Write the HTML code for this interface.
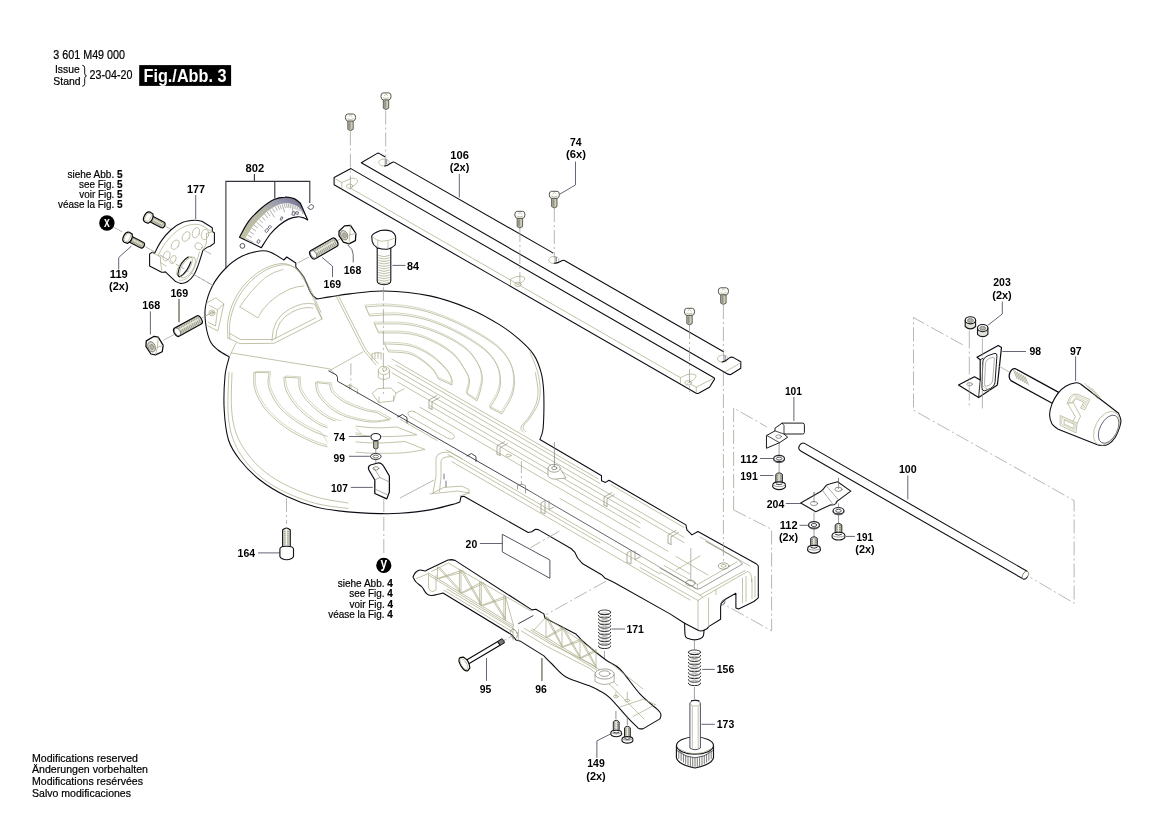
<!DOCTYPE html>
<html><head><meta charset="utf-8"><title>Fig./Abb. 3</title>
<style>
html,body{margin:0;padding:0;background:#fff;}
body{width:1169px;height:826px;overflow:hidden;font-family:"Liberation Sans",sans-serif;}
svg{display:block;position:absolute;left:0;top:0;}
svg *{vector-effect:non-scaling-stroke;}
text{font-family:"Liberation Sans",sans-serif;fill:#000;stroke:none;}
.b{font-weight:bold;font-size:11.4px;text-anchor:middle;}
.r{font-size:10.6px;}
.k{fill:none;stroke:#0c0c14;stroke-width:1.08;stroke-linejoin:round;stroke-linecap:round;}
.kf{fill:#fff;stroke:#0c0c14;stroke-width:1.08;stroke-linejoin:round;stroke-linecap:round;}
.k1{fill:none;stroke:#1a1a1a;stroke-width:1;stroke-linejoin:round;stroke-linecap:round;}
.k1f{fill:#fff;stroke:#1a1a1a;stroke-width:1;stroke-linejoin:round;stroke-linecap:round;}
.t{fill:none;stroke:#a6a682;stroke-width:0.68;stroke-linejoin:round;stroke-linecap:round;}
.tf{fill:#fff;stroke:#a6a682;stroke-width:0.68;stroke-linejoin:round;}
.g{fill:none;stroke:#77778a;stroke-width:0.8;}
.c{fill:none;stroke:#9a9a8c;stroke-width:0.7;stroke-dasharray:14 3 2 3;}
.l{fill:none;stroke:#55556a;stroke-width:0.9;}
.ld{fill:none;stroke:#33333f;stroke-width:1.1;}
</style></head><body>
<svg width="1169" height="826" viewBox="0 0 1169 826">
<rect x="0" y="0" width="1169" height="826" fill="#fff"/>
<!-- p_table -->
<g transform="translate(0 0) scale(1.000000)">
<path class="kf" d="M229.3 356.9 C227.4 355.8 221.1 352.5 218.0 350.0 C214.9 347.5 212.6 346.0 210.6 342.0 C208.6 338.0 206.9 331.8 206.0 326.0 C205.1 320.2 204.3 313.7 205.4 307.0 C206.5 300.3 209.0 292.4 212.4 285.9 C215.8 279.4 221.0 272.9 225.9 268.0 C230.8 263.1 236.2 259.1 241.9 256.3 C247.6 253.5 255.1 251.7 259.9 251.0 C264.7 250.3 266.5 250.7 270.5 252.2 C274.5 253.7 281.6 258.7 283.8 260.0 L283.8 260.0 L286.8 257.0 L295.8 263.0 L295.8 267.0 L295.8 267.0 C297.1 268.7 301.3 272.7 303.8 277.0 C306.3 281.3 308.6 289.4 310.8 293.0 C313.0 296.6 315.8 297.9 316.8 298.9 L316.8 298.9 C319.0 298.6 324.3 297.7 329.8 296.9 C335.3 296.1 340.8 294.9 349.8 293.9 C358.8 292.9 370.5 290.7 383.9 291.0 C397.2 291.3 415.6 292.9 429.9 295.9 C444.2 298.9 458.2 304.1 469.9 308.9 C481.5 313.7 491.5 319.7 499.8 324.9 C508.1 330.1 514.1 334.9 519.8 339.9 C525.5 344.9 530.2 349.4 533.8 354.9 C537.4 360.4 539.6 367.0 541.2 372.9 C542.8 378.8 543.2 383.8 543.6 390.0 C544.0 396.2 544.0 403.3 543.9 410.0 C543.8 416.7 543.6 425.1 542.9 430.0 C542.2 434.9 540.4 437.9 539.9 439.5 L539.9 439.5 L597.0 473.0 L601.5 475.8 L601.5 480.8 L605.5 482.4 L609.0 480.2 L685.9 524.9 L686.9 529.9 L691.9 534.9 L697.9 531.5 L756.6 564.0 L758.3 566.0 L758.3 597.9 L753.9 601.5 L738.6 609.0 L735.9 607.9 L735.9 593.3 L725.3 599.3 L721.3 603.3 L720.6 606.6 L720.6 619.2 L708.6 626.6 L707.3 628.6 L704.0 630.3 L704.0 630.3 C703.9 631.2 704.0 634.5 703.3 635.9 C702.6 637.3 701.5 638.1 700.0 638.8 C698.5 639.5 696.5 639.9 694.6 639.9 C692.7 639.9 690.0 639.3 688.5 638.6 C687.0 637.9 685.9 638.5 685.3 635.9 C684.6 633.3 684.7 625.3 684.6 623.2 L684.6 623.2 L670.0 613.9 L614.6 582.7 L611.7 581.2 L605.2 578.3 L601.6 574.7 L582.7 563.8 L577.6 558.0 L574.7 552.1 L571.0 548.5 L538.3 529.6 L535.4 529.2 L531.8 531.8 L528.2 532.5 L463.9 496.3 L460.9 496.9 L459.9 501.9 L455.9 503.5 L455.9 503.5 C451.6 504.6 439.3 508.3 430.0 509.9 C420.7 511.5 408.4 512.7 400.0 513.3 C391.6 513.9 388.5 513.8 379.8 513.6 C371.1 513.4 358.5 513.0 347.9 511.9 C337.2 510.8 326.2 509.6 315.9 506.9 C305.6 504.2 295.2 500.4 285.9 495.9 C276.6 491.4 267.6 486.0 260.0 480.0 C252.3 474.0 245.2 466.7 240.0 460.0 C234.8 453.3 231.1 448.3 228.5 440.0 C225.9 431.7 224.8 420.7 224.2 410.0 C223.6 399.3 224.2 384.9 225.0 376.0 C225.8 367.1 228.6 360.1 229.3 356.9 Z"/>
<path class="t" d="M227.9 338.0 C227.9 335.1 226.9 327.1 227.9 320.9 C228.9 314.7 230.9 307.2 233.9 300.9 C236.9 294.6 241.2 288.1 245.9 283.0 C250.6 277.9 256.6 273.2 261.9 270.0 C267.2 266.8 273.2 264.8 277.9 264.0 C282.5 263.2 286.1 263.5 289.8 265.0 C293.5 266.5 296.5 268.7 299.8 273.0 C303.1 277.3 306.6 284.7 309.8 291.0 C313.0 297.3 316.8 306.2 318.8 310.9 C320.8 315.5 321.3 317.6 321.8 318.9"/>
<path class="t" d="M229.9 339.2 C229.9 336.3 228.9 328.3 229.9 322.1 C230.9 315.9 232.9 308.4 235.9 302.1 C238.9 295.8 243.2 289.3 247.9 284.2 C252.6 279.1 258.6 274.4 263.9 271.2 C269.2 268.0 275.2 266.0 279.9 265.2 C284.5 264.4 288.1 264.7 291.8 266.2 C295.5 267.7 298.5 269.9 301.8 274.2 C305.1 278.5 308.6 285.9 311.8 292.2 C315.0 298.5 319.3 308.8 320.8 312.1"/>
<path class="t" d="M227.9 338 L239.9 343.6 L274 343.3 L322 319"/>
<path class="t" d="M230 333.5 L240.5 339.5 L273 339.5 L315.5 318"/>
<path class="t" d="M239.9 306.9 L257.9 317.9 Q266 300 289.8 289 Q297 286.3 303.8 285.9 M239.9 306.9 Q249.9 291 265.9 277 Q274 271.5 283 269.5"/>
<path class="t" d="M271.9 340.9 Q272 318 289.8 308.9 Q303 301.5 314.5 304 L321.8 318.9"/>
<path class="t" d="M275.5 338.5 Q276.5 320 291.5 312.3 Q303 306 313 308"/>
<path class="t" d="M206.9 302.9 L215.9 297.9 L223.9 303.9 L217.9 330.9 L207.9 325.9 M209.5 305.5 L217.5 309.8 L215.5 326 L208.5 322.5 M217.5 309.8 L223.9 303.9"/>
<circle cx="211.9" cy="312.9" r="3" class="t"/>
<circle cx="211.9" cy="312.9" r="1.5" class="t"/>
<path class="t" d="M231.5 353 L329.8 368.9 L337 376"/>
<path class="t" d="M229.3 356.9 L236 343"/>
<path class="t" d="M229.0 372.0 C228.8 378.3 227.5 399.3 228.0 410.0 C228.5 420.7 229.5 428.0 232.0 436.0 C234.5 444.0 238.0 451.0 243.0 458.0 C248.0 465.0 254.7 472.2 262.0 478.0 C269.3 483.8 278.0 488.8 287.0 493.0 C296.0 497.2 305.8 500.9 316.0 503.5 C326.2 506.1 342.7 507.7 348.0 508.5"/>
<path class="t" d="M232.0 373.0 C231.9 378.8 230.8 398.0 231.5 408.0 C232.2 418.0 233.4 425.5 236.0 433.0 C238.6 440.5 242.2 446.5 247.0 453.0 C251.8 459.5 257.8 466.3 265.0 472.0 C272.2 477.7 281.2 482.8 290.0 487.0 C298.8 491.2 308.3 494.8 318.0 497.5 C327.7 500.2 343.0 502.1 348.0 503.0"/>
<path class="t" d="M366.0 306.9 C370.0 306.7 381.0 305.4 390.0 305.9 C399.0 306.4 409.9 307.6 419.9 309.9 C429.9 312.2 439.9 315.7 449.9 319.9 C459.9 324.1 471.6 330.1 479.9 334.9 C488.2 339.7 494.6 344.0 499.8 348.9 C505.0 353.8 508.4 358.8 510.8 364.0 C513.2 369.2 514.2 374.7 514.4 380.0 C514.6 385.3 514.0 390.4 511.9 396.0 C509.8 401.6 503.6 410.9 501.9 413.9 L489.9 407.9 C491.2 405.6 496.1 398.3 497.9 394.0 C499.7 389.7 500.5 386.5 500.5 382.0 C500.5 377.5 500.2 372.1 497.8 366.9 C495.4 361.7 492.1 356.4 485.8 350.9 C479.5 345.4 469.2 338.9 459.9 333.9 C450.6 328.9 439.9 324.1 429.9 320.9 C419.9 317.7 409.9 315.7 399.9 314.9 C389.9 314.1 375.0 315.7 370.0 315.9 Z"/>
<path class="t" style="stroke:#c2c2a6" d="M365.2 305.1 C369.2 304.9 380.2 303.6 389.2 304.1 C398.2 304.6 409.1 305.8 419.1 308.1 C429.1 310.4 439.1 313.9 449.1 318.1 C459.1 322.3 470.8 328.3 479.1 333.1 C487.4 337.9 493.9 342.2 499.0 347.1 C504.1 351.9 507.6 357.0 510.0 362.2 C512.4 367.4 513.4 372.9 513.6 378.2 C513.8 383.5 513.2 388.6 511.1 394.2 C509.0 399.8 502.8 409.1 501.1 412.1 L489.1 406.1 C490.4 403.8 495.3 396.5 497.1 392.2 C498.9 387.9 499.7 384.7 499.7 380.2 C499.7 375.7 499.4 370.3 497.0 365.1 C494.6 359.9 491.3 354.6 485.0 349.1 C478.7 343.6 468.4 337.1 459.1 332.1 C449.8 327.1 439.1 322.3 429.1 319.1 C419.1 315.9 409.1 313.9 399.1 313.1 C389.1 312.3 374.2 313.9 369.2 314.1 Z"/>
<path class="t" d="M375.0 323.9 C380.8 324.1 399.1 323.2 409.9 324.9 C420.7 326.6 430.6 329.9 439.9 333.9 C449.2 337.9 459.5 343.7 465.9 348.9 C472.3 354.1 475.8 360.0 478.5 364.9 C481.2 369.8 482.0 373.8 482.3 378.0 C482.6 382.2 481.4 386.2 480.5 390.0 C479.6 393.8 477.5 399.1 476.9 400.9 L466.9 393.9 C467.3 391.8 469.7 384.8 469.5 381.0 C469.3 377.2 468.1 375.2 465.5 370.9 C462.9 366.5 459.2 359.7 453.9 354.9 C448.6 350.1 441.2 345.4 433.9 341.9 C426.6 338.4 419.0 335.4 409.9 333.9 C400.8 332.4 384.1 333.1 379.0 332.9 Z"/>
<path class="t" style="stroke:#c2c2a6" d="M374.2 322.1 C380.0 322.3 398.3 321.4 409.1 323.1 C419.9 324.8 429.8 328.1 439.1 332.1 C448.4 336.1 458.7 341.9 465.1 347.1 C471.5 352.3 475.0 358.2 477.7 363.1 C480.4 367.9 481.2 372.0 481.5 376.2 C481.8 380.4 480.6 384.4 479.7 388.2 C478.8 392.0 476.7 397.3 476.1 399.1 L466.1 392.1 C466.5 389.9 468.9 383.0 468.7 379.2 C468.5 375.4 467.3 373.4 464.7 369.1 C462.1 364.7 458.4 357.9 453.1 353.1 C447.8 348.3 440.4 343.6 433.1 340.1 C425.8 336.6 418.2 333.6 409.1 332.1 C399.9 330.6 383.3 331.3 378.2 331.1 Z"/>
<path class="t" d="M385.0 343.9 C389.1 344.2 402.4 344.1 409.9 345.9 C417.4 347.7 424.1 351.2 429.9 354.9 C435.7 358.6 441.3 364.0 444.9 367.9 C448.5 371.8 450.3 375.1 451.5 378.0 C452.7 380.9 451.8 383.8 451.9 385.0 L438.5 379.0 C437.7 377.6 436.3 373.8 433.9 370.9 C431.5 368.0 427.9 364.7 423.9 361.9 C419.9 359.1 415.7 355.6 409.9 353.9 C404.1 352.2 392.5 352.2 389.0 351.9 Z"/>
<path class="t" style="stroke:#c2c2a6" d="M384.2 342.1 C388.3 342.4 401.6 342.3 409.1 344.1 C416.6 345.9 423.3 349.4 429.1 353.1 C434.9 356.8 440.5 362.2 444.1 366.1 C447.7 369.9 449.5 373.3 450.7 376.2 C451.9 379.1 451.0 382.0 451.1 383.2 L437.7 377.2 C436.9 375.8 435.5 371.9 433.1 369.1 C430.7 366.2 427.1 362.9 423.1 360.1 C419.1 357.3 414.9 353.8 409.1 352.1 C403.3 350.4 391.7 350.4 388.2 350.1 Z"/>
<path class="t" d="M530.0 352.0 C531.3 355.3 535.9 365.7 537.6 372.0 C539.3 378.3 540.1 384.7 540.2 390.0 C540.3 395.3 539.7 399.3 538.0 404.0 C536.3 408.7 532.3 414.5 530.0 418.0 C527.7 421.5 525.1 423.2 524.0 425.0 C522.9 426.8 523.0 427.4 523.3 428.5 C523.5 429.6 525.1 431.0 525.5 431.5"/>
<path class="t" d="M535.4 372.6 C535.8 375.6 537.9 385.3 538.0 390.6 C538.1 395.9 537.5 399.9 535.8 404.6 C534.1 409.3 530.1 415.1 527.8 418.6 C525.5 422.1 522.9 423.9 521.8 425.6 C520.7 427.4 520.8 428.0 521.1 429.1 C521.3 430.2 522.9 431.6 523.3 432.1"/>
<path class="t" d="M253.9 373.0 C254.1 375.8 252.9 383.8 254.9 389.9 C256.9 396.0 260.7 403.6 265.9 409.9 C271.1 416.2 278.6 422.7 285.9 427.9 C293.2 433.1 302.9 437.7 309.9 440.9 C316.9 444.1 319.5 445.0 327.9 446.9 C336.2 448.8 348.0 451.5 360.0 452.5 C372.0 453.5 389.2 453.5 400.0 453.0 C410.8 452.5 420.8 450.1 425.0 449.5 L405.0 441.5 C400.0 441.8 385.0 443.2 375.0 443.0 C365.0 442.8 354.2 442.0 345.0 440.5 C335.8 439.0 327.4 436.7 319.9 433.9 C312.4 431.1 306.6 428.2 299.9 423.9 C293.2 419.6 285.1 413.9 279.9 407.9 C274.7 401.9 270.7 393.7 268.9 387.9 C267.1 382.1 268.9 375.5 268.9 373.0 Z"/>
<path class="t" style="stroke:#c2c2a6" d="M255.5 371.8 C255.7 374.6 254.5 382.6 256.5 388.7 C258.5 394.8 262.3 402.4 267.5 408.7 C272.7 415.0 280.2 421.5 287.5 426.7 C294.8 431.9 304.5 436.5 311.5 439.7 C318.5 442.9 326.5 444.7 329.5 445.7 L321.5 432.7 C318.2 431.0 308.2 427.0 301.5 422.7 C294.8 418.4 286.7 412.7 281.5 406.7 C276.3 400.7 272.3 392.5 270.5 386.7 C268.7 380.9 270.5 374.3 270.5 371.8 Z"/>
<path class="t" d="M283.9 377.6 C284.2 379.7 283.9 385.2 285.9 389.9 C287.9 394.6 291.6 400.9 295.9 405.9 C300.2 410.9 306.6 416.2 311.9 419.9 C317.2 423.6 319.9 425.4 327.9 427.9 C335.9 430.4 349.5 433.6 359.8 435.0 C370.1 436.4 380.3 436.5 389.8 436.5 C399.3 436.5 412.3 435.2 416.8 434.9 L397.0 427.0 C393.3 427.1 382.8 428.1 375.0 427.8 C367.2 427.5 357.9 426.6 350.0 425.0 C342.1 423.4 334.6 421.4 327.9 417.9 C321.2 414.4 314.6 408.6 309.9 403.9 C305.2 399.2 301.7 394.1 299.9 389.9 C298.1 385.6 299.1 380.3 298.9 378.4 Z"/>
<path class="t" style="stroke:#c2c2a6" d="M285.5 376.4 C285.8 378.5 285.5 384.0 287.5 388.7 C289.5 393.4 293.2 399.7 297.5 404.7 C301.8 409.7 308.2 415.0 313.5 418.7 C318.8 422.4 321.5 424.2 329.5 426.7 C337.5 429.2 356.1 432.6 361.4 433.8 L351.6 423.8 C347.9 422.6 336.2 420.2 329.5 416.7 C322.8 413.2 316.2 407.4 311.5 402.7 C306.8 398.0 303.3 392.9 301.5 388.7 C299.7 384.4 300.7 379.1 300.5 377.2 Z"/>
<path class="t" d="M315.5 383.0 C315.9 384.8 315.8 390.1 317.9 393.9 C320.0 397.7 323.6 402.2 327.9 405.9 C332.2 409.6 336.9 413.2 343.9 415.9 C350.9 418.6 362.1 421.2 369.8 421.9 C377.5 422.6 386.5 420.2 389.8 419.9 L377.0 412.5 C374.8 412.1 369.3 411.7 363.8 409.9 C358.3 408.1 349.2 404.9 343.9 401.9 C338.6 398.9 334.2 394.8 331.9 391.9 C329.6 389.0 330.2 385.6 329.9 384.4 Z"/>
<path class="t" style="stroke:#c2c2a6" d="M317.1 381.8 C317.5 383.6 317.4 388.9 319.5 392.7 C321.6 396.5 325.2 401.0 329.5 404.7 C333.8 408.4 338.5 412.0 345.5 414.7 C352.5 417.4 363.8 420.0 371.4 420.7 C379.1 421.4 388.1 419.0 391.4 418.7 L378.6 411.3 C376.4 410.9 370.9 410.5 365.4 408.7 C359.9 406.9 350.8 403.7 345.5 400.7 C340.2 397.7 335.8 393.6 333.5 390.7 C331.2 387.8 331.8 384.4 331.5 383.2 Z"/>
<rect x="327.5" y="421" width="28" height="56" fill="#fff"/>
<rect x="327.5" y="480" width="27.5" height="15" fill="#fff"/>
<path class="t" d="M336 295.9 L364 350.9 L376 365 M338.2 295.4 L366 349.8 L378 363.5"/>
<path class="t" d="M363 351.9 L328.9 371"/>
<path class="t" d="M372 354 V360 M375 352.8 V359 M378 352.4 V358.5 M381 353 V359 M372 354 Q376 351.5 381 353"/>
<ellipse cx="383.9" cy="370.5" rx="5.6" ry="4.2" class="t"/>
<ellipse cx="384.6" cy="369.3" rx="2.2" ry="1.7" class="t"/>
<path class="t" d="M378.3 371 V377.5 Q384 381.5 389.5 377.5 V371"/>
<path class="t" d="M372.5 393 L378 388.5 L391 388 L396 393 L393.5 401 L379 402.5 Z M379 402.5 V397 M393.5 401 V396"/>
<path class="t" d="M346 386.5 L349.5 384.8 L357.5 389 V393.5 M349.5 384.8 V389"/>
<path class="t" d="M396 393 L404 389"/>
<path class="c" d="M350.9 363.4 V388" style="stroke-dasharray:12 3 2 3"/>
<path class="k1" d="M328.9 371 L333 373.2 Q337.5 374.5 337.5 377.5 V381.2 L527.9 490" style="stroke-width:.85;stroke:#24242e"/>
<path class="k1" d="M527.9 490 L640 555.5" style="stroke:#3c3c44;stroke-width:.8"/>
<path class="t" d="M640 555.5 L696 588.6" style="stroke:#8a8a78"/>
<path class="k1" d="M397.5 417 L402.5 414.5 L407 417.5 V423" style="stroke-width:.8"/>
<path class="k1" d="M467 456 L471.5 453.5 L476 456.5 V461.5" style="stroke-width:.8"/>
<path class="t" d="M400.5 419.5 L437 440.5"/>
</g>
<!-- p_arm -->
<g transform="translate(0 0) scale(1.000000)">
<path class="t" d="M611 484.8 L684 527.5"/>
<path class="t" d="M700 536.9 L750 566.2"/>
<path class="t" d="M392.0 359.1 L598.0 478.8"/>
<path class="t" d="M396.0 365.0 L600.0 483.5"/>
<path class="t" d="M388.0 365.4 L684.0 537.4"/>
<path class="t" d="M392.0 372.9 L684.0 542.5"/>
<path class="t" d="M398.0 382.2 L640.0 522.8"/>
<path class="t" d="M430.0 405.8 L640.0 527.9"/>
<path class="t" d="M420.0 407.2 L668.0 551.3"/>
<path class="t" d="M560.0 498.5 L690.0 574.0"/>
<path class="t" d="M446.0 449.7 L660.0 574.1"/>
<path class="t" d="M448.0 454.6 L600.0 542.9"/>
<path class="t" d="M452.0 461.7 L690.0 600.0"/>
<path class="t" d="M414.5 411.8 L452.5 433.6 Q456 436.6 453.6 438.6 Q451 440 447.5 438.2 L409.5 416.4 Q406.6 413.8 408.6 411.8 Q411 410 414.5 411.8Z"/>
<path class="t" d="M429 408 V400 L437 395.5 M432 409.5 V401.8 L439.5 397.5 M429 408 L432 409.5" style="stroke:#8c8c74"/>
<path class="t" d="M497 454 V446 L505 441.5 M500 455.5 V447.8 L507.5 443.5 M497 454 L500 455.5" style="stroke:#8c8c74"/>
<path class="t" d="M604 505 V497 L612 492.5 M607 506.5 V498.8 L614.5 494.5 M604 505 L607 506.5" style="stroke:#8c8c74"/>
<path class="t" d="M668 543 V535 L676 530.5 M671 544.5 V536.8 L678.5 532.5 M668 543 L671 544.5" style="stroke:#8c8c74"/>
<path class="t" d="M541 512 V503 L545 500.5 V509 M549 501 V509.5 L554 507 M541 512 L545 514 V509" style="stroke:#8c8c74"/>
<path class="t" d="M627 562 V553 L631 550.5 V559 M635 551 V559.5 L640 557 M627 562 L631 564 V559" style="stroke:#8c8c74"/>
<path class="tf" d="M548 468.5 V475.5 Q549.5 479.5 556 479 L566 478 L560 468.5Z" style="stroke:#8c8c74"/>
<ellipse cx="554.1" cy="468.3" rx="6.1" ry="3.9" class="tf" style="stroke:#77776a"/>
<ellipse cx="554.3" cy="468.1" rx="2.6" ry="1.6" class="t" style="stroke:#66665a"/>
<path class="c" d="M554.4 442 V467" style="stroke-dasharray:none;stroke:#77777f"/>
<path class="c" d="M521.4 461 V485" style="stroke-dasharray:12 3 2 3"/>
<path class="t" d="M517.5 489 V485.5 Q521.4 482.5 525.5 485.5 V493" style="stroke:#77776a"/>
<ellipse cx="508.5" cy="455.5" rx="2.6" ry="1.3" class="t"/>
<path class="t" d="M660 568 L696 588.6 Q698 589.4 700 588.6 L742.6 564 L738 559.5 L706 541.5" style="stroke:#6e6e66"/>
<path class="t" d="M664 565.5 L697.5 584.5 L737 562 M697.5 584.5 L697.5 588.8"/>
<ellipse cx="723.6" cy="566" rx="5.4" ry="3.2" class="t" style="stroke:#77776a"/><ellipse cx="723.6" cy="565.8" rx="2.5" ry="1.4" class="t"/>
<ellipse cx="690.5" cy="583" rx="4.6" ry="2.8" class="t" style="stroke:#77776a"/>
<path class="c" d="M690.8 548 V581" style="stroke-dasharray:none"/>
<path class="t" d="M676 556.5 L708 575 M676 570 L700 556"/>
<path class="t" d="M700 595 L745 570.5 M698 600.5 Q702 597 712 592 L716 589.5 V594.5 M716 589.5 L747.5 571.5 Q751 572 751.5 577.5 V582 M698 600.5 V629.5 M708.6 598 V626.6 M703 597.5 L700 595 L660 572"/>
<path class="t" d="M752 579 V598.5 M755 576.5 V597 M742.5 578 V603 M746 576.5 V601.5"/>
<path class="t" d="M640 567.5 L698 600.5"/>
<ellipse cx="723" cy="602.5" rx="1.6" ry="3" transform="rotate(30 723 602.5)" class="t" style="stroke:#44444c"/>
<path class="k" d="M684.6 623.2 L698.6 630.6 Q701 631.5 704 630.3"/>
<path class="t" d="M433 492.9 L436 476 V458 Q437 453.5 442 452.6 L450 452 L462 458.8 M439.5 491.5 L441 477 V461 Q442 457.5 446 457 L452 456.6"/>
<path class="t" d="M430 493.9 L458 491 L469 493 M433 492.9 L444 487.3 L462 486.2 L469 489.5 V493 M460 496 L469 493"/>
<path class="k1" d="M444 474 V479 M446 481 V487" style="stroke-width:.8;stroke:#55555f"/>
<path class="c" d="M400 498 L434 480" style="stroke-dasharray:none"/>
<path class="c" d="M383.8 499 V512" style="stroke-dasharray:none"/>
</g>
<!-- p_bars -->
<g transform="translate(0 0) scale(1.000000)">
<path class="c" d="M723.4 372 V432"/>
<path d="M361.3 162.7 L377.2 153.4 L379.5 153.6 L394 162.1 L723.6 351.8 L732.7 357.3 L740.8 361.8 L740.8 368.2 L730.8 374.5 L725.4 372.7 Z" fill="#fff" stroke="none"/>
<ellipse cx="384" cy="162.5" rx="5.2" ry="3.5" class="tf"/>
<path d="M385.2 159.2 V165.0 M386.6 159.6 V164.3" class="g"/>
<ellipse cx="553.9" cy="259.9" rx="5.2" ry="3.5" class="tf"/>
<path d="M555.1 256.59999999999997 V262.4 M556.5 257.0 V261.7" class="g"/>
<ellipse cx="722.7" cy="358.6" rx="5.2" ry="3.5" class="tf"/>
<path d="M723.9000000000001 355.3 V361.1 M725.3000000000001 355.70000000000005 V360.40000000000003" class="g"/>
<path class="k" d="M384.9 156.8 L379.5 153.6 Q378.3 152.8 377.2 153.4 L361.3 162.7 L725.4 372.7 Q728.5 375 730.8 374.5 L740.8 368.2 L740.8 361.8 L733.5 357.6 Q731.5 356.7 729.8 357.6 L727.4 359.4 Q725.5 361.5 722 362"/>
<path class="k" d="M384.5 166 Q387.5 165.6 389 164.3 L392.6 162.3 Q393.6 161.8 394.6 162.4 L552.9 252.9"/>
<path class="k" d="M554.2 263.3 Q557.6 263.2 559.3 262 L562.3 260.4 Q563.4 259.9 564.5 260.5 L723.6 351.8"/>
<path class="t" d="M725.6 371.6 L740.6 363"/>
<path class="kf" d="M350.9 168.6 L714 377.7 Q714.9 378.4 714.4 379.4 L709.5 387.2 L698.6 393.2 Q697.2 393.9 695.8 393 L334.1 184.7 L334.1 177.4 Z"/>
<path class="t" d="M351.3 188.6 L680.4 377.7 L680.4 382.6 M680.4 377.7 L687 374.6 M690.9 384.4 L696.3 387.2 L713.4 378.3 M696.3 387.2 V393"/>
<path class="t" d="M335.6 178.9 L341.8 182.5 V188.3 M341.8 182.5 L351.5 178.3 Q356.6 177.6 357.6 180.9 Q357.8 183.6 351.5 186.8"/>
<ellipse cx="349.6" cy="186.2" rx="3.2" ry="2.2" class="t"/>
<path class="t" d="M687 374.6 Q693 373 695.8 375.2 Q696.8 378 691 381.4 L687.5 383"/>
<ellipse cx="688.2" cy="382.8" rx="3.2" ry="2.2" class="t"/>
<path class="t" d="M510.5 279.2 L516.2 276.6 Q522 275.3 524.6 277.4 Q526 280.2 520.5 283 L516.8 284.8"/>
<ellipse cx="518" cy="284.4" rx="3.2" ry="2.2" class="t"/>
<path class="t" d="M510.5 279.2 V284.5"/>
<path class="c" d="M385.7 110.5 V164"/>
<path class="c" d="M350.4 131.5 V192"/>
<path class="c" d="M554.3 208 V258"/>
<path class="c" d="M519.9 228 V283"/>
<path class="c" d="M723.4 305 V356"/>
<path class="c" d="M689.5 325 V392"/>
<path d="M383.3 99.4 L383.3 108.2 Q386 110.9 388.7 108.2 L388.7 99.4 Z" fill="#bdbbaa" stroke="#55554a" stroke-width="0.9"/>
<path d="M385.1 101.10000000000001 V107.7" stroke="#8f8f9a" stroke-width="1.6" fill="none"/>
<path d="M387.3 101.10000000000001 V107.7" stroke="#d8d6a8" stroke-width="1.0" fill="none"/>
<path d="M380.9 96.4 Q380.9 92.9 383.195 92.9 L388.805 92.9 Q391.1 92.9 391.1 96.4 Q390.845 99.9 388.805 99.9 L383.195 99.9 Q381.155 99.9 380.9 96.4 Z" fill="#fff" stroke="#4c4c42" stroke-width="0.95"/>
<path d="M383.195 97.94000000000001 Q386 99.2 388.805 97.94000000000001" class="t"/>
<path d="M384.4 95.56 L386 94.02000000000001 L387.6 95.56" class="t"/>
<path d="M347.8 120.5 L347.8 129.3 Q350.5 132.0 353.2 129.3 L353.2 120.5 Z" fill="#bdbbaa" stroke="#55554a" stroke-width="0.9"/>
<path d="M349.6 122.2 V128.8" stroke="#8f8f9a" stroke-width="1.6" fill="none"/>
<path d="M351.8 122.2 V128.8" stroke="#d8d6a8" stroke-width="1.0" fill="none"/>
<path d="M345.4 117.5 Q345.4 114 347.695 114 L353.305 114 Q355.6 114 355.6 117.5 Q355.345 121.0 353.305 121.0 L347.695 121.0 Q345.655 121.0 345.4 117.5 Z" fill="#fff" stroke="#4c4c42" stroke-width="0.95"/>
<path d="M347.695 119.04 Q350.5 120.3 353.305 119.04" class="t"/>
<path d="M348.9 116.66 L350.5 115.12 L352.1 116.66" class="t"/>
<path d="M551.5999999999999 197.8 L551.5999999999999 206.60000000000002 Q554.3 209.3 557.0 206.60000000000002 L557.0 197.8 Z" fill="#bdbbaa" stroke="#55554a" stroke-width="0.9"/>
<path d="M553.4 199.5 V206.10000000000002" stroke="#8f8f9a" stroke-width="1.6" fill="none"/>
<path d="M555.5999999999999 199.5 V206.10000000000002" stroke="#d8d6a8" stroke-width="1.0" fill="none"/>
<path d="M549.1999999999999 194.8 Q549.1999999999999 191.3 551.495 191.3 L557.1049999999999 191.3 Q559.4 191.3 559.4 194.8 Q559.145 198.3 557.1049999999999 198.3 L551.495 198.3 Q549.4549999999999 198.3 549.1999999999999 194.8 Z" fill="#fff" stroke="#4c4c42" stroke-width="0.95"/>
<path d="M551.495 196.34 Q554.3 197.60000000000002 557.1049999999999 196.34" class="t"/>
<path d="M552.6999999999999 193.96 L554.3 192.42000000000002 L555.9 193.96" class="t"/>
<path d="M517.1999999999999 217.8 L517.1999999999999 226.60000000000002 Q519.9 229.3 522.6 226.60000000000002 L522.6 217.8 Z" fill="#bdbbaa" stroke="#55554a" stroke-width="0.9"/>
<path d="M519.0 219.5 V226.10000000000002" stroke="#8f8f9a" stroke-width="1.6" fill="none"/>
<path d="M521.1999999999999 219.5 V226.10000000000002" stroke="#d8d6a8" stroke-width="1.0" fill="none"/>
<path d="M514.8 214.8 Q514.8 211.3 517.095 211.3 L522.7049999999999 211.3 Q525.0 211.3 525.0 214.8 Q524.745 218.3 522.7049999999999 218.3 L517.095 218.3 Q515.055 218.3 514.8 214.8 Z" fill="#fff" stroke="#4c4c42" stroke-width="0.95"/>
<path d="M517.095 216.34 Q519.9 217.60000000000002 522.7049999999999 216.34" class="t"/>
<path d="M518.3 213.96 L519.9 212.42000000000002 L521.5 213.96" class="t"/>
<path d="M720.6999999999999 294.3 L720.6999999999999 303.1 Q723.4 305.8 726.1 303.1 L726.1 294.3 Z" fill="#bdbbaa" stroke="#55554a" stroke-width="0.9"/>
<path d="M722.5 296.0 V302.6" stroke="#8f8f9a" stroke-width="1.6" fill="none"/>
<path d="M724.6999999999999 296.0 V302.6" stroke="#d8d6a8" stroke-width="1.0" fill="none"/>
<path d="M718.3 291.3 Q718.3 287.8 720.595 287.8 L726.2049999999999 287.8 Q728.5 287.8 728.5 291.3 Q728.245 294.8 726.2049999999999 294.8 L720.595 294.8 Q718.555 294.8 718.3 291.3 Z" fill="#fff" stroke="#4c4c42" stroke-width="0.95"/>
<path d="M720.595 292.84000000000003 Q723.4 294.1 726.2049999999999 292.84000000000003" class="t"/>
<path d="M721.8 290.46000000000004 L723.4 288.92 L725.0 290.46000000000004" class="t"/>
<path d="M686.8 314.8 L686.8 323.6 Q689.5 326.3 692.2 323.6 L692.2 314.8 Z" fill="#bdbbaa" stroke="#55554a" stroke-width="0.9"/>
<path d="M688.6 316.5 V323.1" stroke="#8f8f9a" stroke-width="1.6" fill="none"/>
<path d="M690.8 316.5 V323.1" stroke="#d8d6a8" stroke-width="1.0" fill="none"/>
<path d="M684.4 311.8 Q684.4 308.3 686.695 308.3 L692.305 308.3 Q694.6 308.3 694.6 311.8 Q694.345 315.3 692.305 315.3 L686.695 315.3 Q684.655 315.3 684.4 311.8 Z" fill="#fff" stroke="#4c4c42" stroke-width="0.95"/>
<path d="M686.695 313.34000000000003 Q689.5 314.6 692.305 313.34000000000003" class="t"/>
<path d="M687.9 310.96000000000004 L689.5 309.42 L691.1 310.96000000000004" class="t"/>
<path class="l" d="M459.3 174 V197.5"/>
<path class="l" d="M575.5 161.6 V184.9 L559.8 194.2"/>
</g>
<!-- p_left -->
<g transform="translate(0 0) scale(1.000000)">
<path class="c" d="M113.6 227.2 L122 231.8"/>
<path class="c" d="M145.3 246.7 L160 255 M160 255 L213 285.5"/>
<path class="c" d="M165.3 226.2 L171 229.5 M203 249.8 L211.2 254.2"/>
<path class="c" d="M163.2 340.4 L174 334.5 M202.2 317.7 L213.6 311.8"/>
<path class="c" d="M297.6 263 L309.1 257 M337.4 240.6 L340 239.2"/>
<path class="c" d="M383.4 286.9 V397"/>
<path class="ld" d="M254.4 174 V181.4 M225.9 268.5 V181.4 H309.8 V203 M274.8 181.4 V198.5"/>
<path class="l" d="M195.7 195 V219"/>
<path class="l" d="M118.7 269.5 V257.5 L131.5 246"/>
<path d="M179 299.1 V322.2" fill="none" stroke="#96968a" stroke-width="1.9"/>
<path class="l" d="M150.4 311.3 V334.5"/>
<path class="l" d="M322.2 257.5 L332.5 266.2 V277.1"/>
<path class="l" d="M347.8 245 Q353.2 249 353.2 254.5 V262.4"/>
<path class="l" d="M392.5 265.4 H405.5"/>
<path class="kf" d="M154.5 253.4 C155.6 251.4 158.3 245.3 161.0 241.4 C163.7 237.5 167.2 233.2 170.8 230.0 C174.4 226.8 178.8 223.9 182.8 222.3 C186.8 220.7 191.6 220.4 194.8 220.2 C198.0 220.0 200.7 221.1 201.9 221.3 L201.9 221.3 L212.3 227.8 L212.3 231.6 L214.4 232.7 L214.4 243.1 L210.1 246.3 L207.9 246.9 L203.0 250.1 L203.0 250.1 C202.2 252.6 199.7 261.2 198.1 265.4 C196.5 269.6 195.5 272.5 193.7 275.2 C191.9 277.9 189.4 280.3 187.2 281.7 C185.0 283.1 182.7 283.5 180.7 283.4 C178.7 283.3 176.1 281.6 175.2 281.2 L175.2 281.2 L165.4 271.9 L162.1 272.5 L149.6 265.9 L149.6 253.9 L152.3 252.3 L154.5 253.4 Z"/>
<path class="t" d="M158.5 255.0 C159.6 253.1 162.4 247.1 165.0 243.5 C167.6 239.9 170.7 236.4 174.0 233.5 C177.3 230.6 181.3 227.8 185.0 226.3 C188.7 224.8 193.0 224.4 196.0 224.3 C199.0 224.2 201.8 225.7 203.0 226.0 L210.5 231"/>
<path class="t" d="M199.5 252.0 C198.8 254.3 196.5 262.2 195.0 266.0 C193.5 269.8 192.2 272.2 190.5 274.5 C188.8 276.8 186.6 278.5 184.8 279.5 C183.0 280.5 180.4 280.2 179.5 280.3"/>
<path class="t" d="M152.3 252.3 L160.5 257 V262.5 L162.1 272.5 M160.5 257 L158.5 255 M160.5 262.5 L166 266 M206.5 233.5 V243 L203 250.1 M206.5 233.5 L212.3 231.6"/>
<ellipse cx="175.2" cy="244.7" rx="3.4" ry="5.2" transform="rotate(35 175.2 244.7)" class="t"/>
<ellipse cx="186.1" cy="236.5" rx="3.4" ry="5.2" transform="rotate(30 186.1 236.5)" class="t"/>
<ellipse cx="195.9" cy="232.7" rx="3.4" ry="5.3" transform="rotate(20 195.9 232.7)" class="t"/>
<ellipse cx="205" cy="234.5" rx="3.6" ry="5.3" transform="rotate(15 205 234.5)" class="t"/>
<ellipse cx="198.6" cy="246.3" rx="3.8" ry="3.3" transform="rotate(20 198.6 246.3)" class="t"/>
<ellipse cx="166.5" cy="256.1" rx="3.3" ry="5" transform="rotate(25 166.5 256.1)" class="t"/>
<ellipse cx="173" cy="259.6" rx="2.6" ry="4.4" transform="rotate(25 173 259.6)" class="t"/>
<ellipse cx="184.6" cy="266.6" rx="11.8" ry="5" transform="rotate(-55 184.6 266.6)" class="t"/>
<path d="M188.6 256.8 Q179.5 262 177.9 274 Q178.2 277.3 180.4 276.4 Q187 272.5 191 261.5" fill="none" stroke="#14141c" stroke-width="1.15"/>
<ellipse cx="187.6" cy="267.4" rx="12" ry="5.6" transform="rotate(-57 187.6 267.4)" class="t"/>
<path class="c" d="M160 255 L213 285.5" style="stroke-dasharray:10 3 2 3"/>
<g transform="translate(148.6 217.6) rotate(27.50)">
<path d="M2 -3.1 L15.4596476268479 -3.1 Q18.0596476268479 -3.1 18.0596476268479 0 Q18.0596476268479 3.1 15.4596476268479 3.1 L2 3.1Z" fill="#c8c8ba" stroke="#0a0a0a" stroke-width="1.2"/>
<path d="M5.5 -2.6 L4.9 2.6 M7.2 -2.6 L6.6 2.6 M8.9 -2.6 L8.3 2.6 M10.6 -2.6 L10.0 2.6 M12.3 -2.6 L11.7 2.6 M14.0 -2.6 L13.4 2.6 M15.7 -2.6 L15.1 2.6" stroke="#8a8a78" stroke-width="0.7" fill="none"/>
<path d="M5 -0.6 H15.4596476268479" stroke="#e8e6c8" stroke-width="1.3" fill="none"/>
<path d="M-1.2 -5.6 Q-4.6 -5.2 -4.6 0 Q-4.6 5.2 -1.2 5.6 L2.2 5.2 Q4 3 4 0 Q4 -3 2.2 -5.2Z" fill="#fff" stroke="#0a0a0a" stroke-width="1.25"/>
<ellipse cx="-0.6" cy="0" rx="2.6" ry="4.4" fill="none" stroke="#a8a884" stroke-width="0.7"/>
</g>
<g transform="translate(127.9 237.8) rotate(27.34)">
<path d="M2 -3.1 L15.548413821269989 -3.1 Q18.14841382126999 -3.1 18.14841382126999 0 Q18.14841382126999 3.1 15.548413821269989 3.1 L2 3.1Z" fill="#c8c8ba" stroke="#0a0a0a" stroke-width="1.2"/>
<path d="M5.5 -2.6 L4.9 2.6 M7.2 -2.6 L6.6 2.6 M8.9 -2.6 L8.3 2.6 M10.6 -2.6 L10.0 2.6 M12.3 -2.6 L11.7 2.6 M14.0 -2.6 L13.4 2.6 M15.7 -2.6 L15.1 2.6" stroke="#8a8a78" stroke-width="0.7" fill="none"/>
<path d="M5 -0.6 H15.548413821269989" stroke="#e8e6c8" stroke-width="1.3" fill="none"/>
<path d="M-1.2 -5.6 Q-4.6 -5.2 -4.6 0 Q-4.6 5.2 -1.2 5.6 L2.2 5.2 Q4 3 4 0 Q4 -3 2.2 -5.2Z" fill="#fff" stroke="#0a0a0a" stroke-width="1.25"/>
<ellipse cx="-0.6" cy="0" rx="2.6" ry="4.4" fill="none" stroke="#a8a884" stroke-width="0.7"/>
</g>
<path d="M239.5 237.2 C241.0 234.5 245.0 226.1 248.6 221.3 C252.2 216.5 257.1 211.8 261.3 208.2 C265.5 204.6 270.1 201.3 274.0 199.5 C277.9 197.7 281.7 197.2 285.0 197.1 C288.3 196.9 291.4 197.6 294.0 198.6 C296.6 199.6 299.3 202.4 300.4 203.2 L307.7 220 L307.7 220.0 C306.9 219.6 304.8 218.2 303.1 217.7 C301.4 217.2 300.1 216.6 297.7 216.8 C295.3 217.0 291.6 217.7 288.6 219.1 C285.6 220.5 282.5 222.5 279.5 225.0 C276.5 227.5 273.4 230.2 270.4 234.0 C267.4 237.8 262.8 245.4 261.3 247.7 Z" fill="#fff" stroke="none"/>
<defs><linearGradient id="gb" x1="0" y1="1" x2="1" y2="0"><stop offset="0" stop-color="#c3c3a6"/><stop offset="0.55" stop-color="#b4b4a4"/><stop offset="0.75" stop-color="#9a9ab0"/><stop offset="1" stop-color="#6c6c86"/></linearGradient></defs>
<path d="M239.5 237.2 C241.0 234.5 245.0 226.1 248.6 221.3 C252.2 216.5 257.1 211.8 261.3 208.2 C265.5 204.6 270.1 201.3 274.0 199.5 C277.9 197.7 281.7 197.2 285.0 197.1 C288.3 196.9 291.4 197.6 294.0 198.6 C296.6 199.6 299.3 202.4 300.4 203.2 L302.2 209 L302.2 209.0 C300.8 208.3 296.7 205.8 294.0 204.8 C291.3 203.9 288.9 203.2 286.0 203.3 C283.1 203.4 280.0 203.8 276.5 205.5 C273.0 207.2 268.8 210.2 265.0 213.5 C261.2 216.8 256.9 221.1 253.5 225.5 C250.1 229.9 246.0 237.6 244.5 240.0 Z" fill="url(#gb)" stroke="none"/>
<path d="M245.5 238.3 L253.4 242.3 M247.6 235.0 L251.9 237.5 M249.7 231.6 L253.9 234.3 M251.8 228.3 L255.9 231.1 M253.9 225.0 L257.9 228.1 M256.6 222.3 L263.2 227.8 M259.2 219.5 L262.8 223.0 M261.9 216.7 L265.2 220.5 M264.6 214.0 L267.6 217.9 M267.2 212.0 L270.0 216.1 M269.9 210.1 L274.5 217.4 M272.5 208.3 L274.9 212.6 M275.2 206.4 L277.3 210.9 M277.6 205.2 L279.5 209.7 M279.8 204.7 L281.4 209.2 M282.0 204.2 L284.6 212.2 M284.2 203.7 L285.4 208.2 M286.3 203.4 L287.3 207.8 M288.2 203.7 L289.0 208.1 M290.0 204.1 L290.8 208.4 M291.8 204.4 L293.1 211.8 M293.7 204.7 L294.2 209.0 M295.6 205.6 L296.2 209.7 M297.5 206.6 L298.2 210.5 M299.4 207.5 L300.3 211.3 M301.3 208.5 L303.0 214.2" stroke="#8c8c86" stroke-width="0.7" fill="none"/>
<rect x="256.9" y="240.4" width="3.2" height="2.2" transform="rotate(-58 258.5 241.5)" fill="none" stroke="#5c5c70" stroke-width="0.9"/>
<rect x="265.0" y="229.3" width="3.6" height="2.4" transform="rotate(-50 266.8 230.5)" fill="none" stroke="#5c5c70" stroke-width="0.9"/>
<rect x="268.5" y="225.9" width="2.6" height="2.2" transform="rotate(-45 269.8 227)" fill="none" stroke="#5c5c70" stroke-width="0.9"/>
<rect x="279.9" y="217.7" width="3.2" height="1.6" transform="rotate(-62 281.5 218.5)" fill="none" stroke="#5c5c70" stroke-width="0.9"/>
<rect x="291.8" y="212.2" width="3.4" height="2.6" transform="rotate(-75 293.5 213.5)" fill="none" stroke="#5c5c70" stroke-width="0.9"/>
<rect x="295.8" y="211.7" width="2.4" height="2.6" transform="rotate(-80 297 213)" fill="none" stroke="#5c5c70" stroke-width="0.9"/>
<path d="M294 198.6 L300.4 203.2 L307.7 220 L303.3 212.5 L297.5 205.5Z" fill="#7a7a92" stroke="none" opacity="0.75"/>
<path d="M239.5 237.2 C241.0 234.5 245.0 226.1 248.6 221.3 C252.2 216.5 257.1 211.8 261.3 208.2 C265.5 204.6 270.1 201.3 274.0 199.5 C277.9 197.7 281.7 197.2 285.0 197.1 C288.3 196.9 291.4 197.6 294.0 198.6 C296.6 199.6 299.3 202.4 300.4 203.2 L307.7 220 L307.7 220.0 C306.9 219.6 304.8 218.2 303.1 217.7 C301.4 217.2 300.1 216.6 297.7 216.8 C295.3 217.0 291.6 217.7 288.6 219.1 C285.6 220.5 282.5 222.5 279.5 225.0 C276.5 227.5 273.4 230.2 270.4 234.0 C267.4 237.8 262.8 245.4 261.3 247.7 Z" class="k" style="stroke-width:1.2"/>
<circle cx="242.4" cy="245.9" r="2.4" fill="#fff" stroke="#44444c" stroke-width="0.9"/>
<path d="M308 207.5 L311 204.3 L313.8 206 L312.6 208.8 L310 209.6Z M308 207.5 L310 209.6" fill="#fff" stroke="#55556a" stroke-width="0.9"/>
<g transform="translate(176.8 332.2) rotate(-28.79)">
<path d="M0 -4.65 L25.331403435261915 -4.65 Q27.931403435261917 -4.65 27.931403435261917 0 Q27.931403435261917 4.65 25.331403435261915 4.65 L0 4.65 Q-2.6 4.65 -2.6 0 Q-2.6 -4.65 0 -4.65Z" fill="#d6d6ce" stroke="#0a0a0a" stroke-width="1.2"/>
<path d="M3.0 -3.8500000000000005 L2.2 3.8500000000000005 M4.9 -3.8500000000000005 L4.1 3.8500000000000005 M6.8 -3.8500000000000005 L6.0 3.8500000000000005 M8.7 -3.8500000000000005 L7.9 3.8500000000000005 M10.6 -3.8500000000000005 L9.8 3.8500000000000005 M12.5 -3.8500000000000005 L11.7 3.8500000000000005 M14.4 -3.8500000000000005 L13.6 3.8500000000000005 M16.3 -3.8500000000000005 L15.5 3.8500000000000005 M18.2 -3.8500000000000005 L17.4 3.8500000000000005 M20.1 -3.8500000000000005 L19.3 3.8500000000000005 M22.0 -3.8500000000000005 L21.2 3.8500000000000005 M23.9 -3.8500000000000005 L23.1 3.8500000000000005 M25.8 -3.8500000000000005 L25.0 3.8500000000000005" stroke="#8c8c7a" stroke-width="0.8" fill="none"/>
<path d="M3 -0.9300000000000002 H25.331403435261915" stroke="#e6e6d8" stroke-width="1.6" fill="none"/>
<ellipse cx="0.8" cy="0" rx="2.6" ry="4.050000000000001" fill="#fff" stroke="#55554a" stroke-width="0.7"/>
</g>
<g transform="translate(312.9 254.8) rotate(-30.03)">
<path d="M0 -4.65 L25.179356624028365 -4.65 Q27.779356624028367 -4.65 27.779356624028367 0 Q27.779356624028367 4.65 25.179356624028365 4.65 L0 4.65 Q-2.6 4.65 -2.6 0 Q-2.6 -4.65 0 -4.65Z" fill="#d6d6ce" stroke="#0a0a0a" stroke-width="1.2"/>
<path d="M3.0 -3.8500000000000005 L2.2 3.8500000000000005 M4.9 -3.8500000000000005 L4.1 3.8500000000000005 M6.8 -3.8500000000000005 L6.0 3.8500000000000005 M8.7 -3.8500000000000005 L7.9 3.8500000000000005 M10.6 -3.8500000000000005 L9.8 3.8500000000000005 M12.5 -3.8500000000000005 L11.7 3.8500000000000005 M14.4 -3.8500000000000005 L13.6 3.8500000000000005 M16.3 -3.8500000000000005 L15.5 3.8500000000000005 M18.2 -3.8500000000000005 L17.4 3.8500000000000005 M20.1 -3.8500000000000005 L19.3 3.8500000000000005 M22.0 -3.8500000000000005 L21.2 3.8500000000000005 M23.9 -3.8500000000000005 L23.1 3.8500000000000005 M25.8 -3.8500000000000005 L25.0 3.8500000000000005" stroke="#8c8c7a" stroke-width="0.8" fill="none"/>
<path d="M3 -0.9300000000000002 H25.179356624028365" stroke="#e6e6d8" stroke-width="1.6" fill="none"/>
<ellipse cx="0.8" cy="0" rx="2.6" ry="4.050000000000001" fill="#fff" stroke="#55554a" stroke-width="0.7"/>
</g>
<path d="M146.3 340.9 L154.1 336.3 L158.2 337.2 L163.2 345.4 L162.2 351.8 L155.4 354.9 L150.9 354.0 L145.9 346.3Z" fill="#fff" stroke="#0a0a0a" stroke-width="1.25" stroke-linejoin="round"/>
<ellipse cx="151.6" cy="346.8" rx="3.6" ry="5.3" transform="rotate(-22 151.6 346.8)" fill="#d8d8cc" stroke="#66665a" stroke-width="0.8"/>
<ellipse cx="151.79999999999998" cy="347.1" rx="1.8" ry="2.65" transform="rotate(-22 151.6 346.8)" fill="#b8b8aa" stroke="#77776a" stroke-width="0.7"/>
<path class="t" d="M157.4 347.2 L158.2 337.2 M157.4 347.2 L163.2 345.4 M157.4 347.2 L155.4 354.9"/>
<path d="M339.0 231.3 L344.5 225.9 L350.5 225.4 L355.9 233.5 L355.4 240.6 L348.9 243.9 L343.4 242.2 L339.0 235.7Z" fill="#fff" stroke="#0a0a0a" stroke-width="1.25" stroke-linejoin="round"/>
<ellipse cx="344.2" cy="235.2" rx="3.3" ry="5" transform="rotate(-25 344.2 235.2)" fill="#d8d8cc" stroke="#66665a" stroke-width="0.8"/>
<ellipse cx="344.4" cy="235.5" rx="1.65" ry="2.5" transform="rotate(-25 344.2 235.2)" fill="#b8b8aa" stroke="#77776a" stroke-width="0.7"/>
<path class="t" d="M349.8 234.8 L350.5 225.4 M349.8 234.8 L355.9 233.5 M349.8 234.8 L348.9 243.9"/>
<path d="M377.2 248 V281 Q377.4 284.3 383.9 284.8 Q390.6 284.3 390.8 281 V248Z" class="kf"/>
<path d="M378.6 255.5 Q384 258.1 389.4 255.5 M378.6 257.9 Q384 260.6 389.4 257.9 M378.6 260.4 Q384 263.0 389.4 260.4 M378.6 262.8 Q384 265.4 389.4 262.8 M378.6 265.3 Q384 267.9 389.4 265.3 M378.6 267.7 Q384 270.3 389.4 267.7 M378.6 270.2 Q384 272.8 389.4 270.2 M378.6 272.6 Q384 275.2 389.4 272.6 M378.6 275.1 Q384 277.7 389.4 275.1 M378.6 277.5 Q384 280.1 389.4 277.5 M378.6 280.0 Q384 282.6 389.4 280.0 M378.6 282.4 Q384 285.0 389.4 282.4" class="t" style="stroke:#9c9c7a"/>
<path d="M371.7 236.2 Q372.5 233.5 380.5 230.5 Q386 229.4 391.4 231.3 Q395.5 233.8 395.7 237.9 L395.2 245 Q393 247.5 387.5 249.3 Q382 249.5 377.2 247.7 Q373 245 372.2 241.5Z" class="kf"/>
<path class="t" d="M372.2 236.5 Q376 240.5 381.5 241.3 Q389 241 395.2 238 M377.8 240.6 V247.5 M388 241 V249"/>
</g>
<!-- p_right -->
<g transform="translate(0 0) scale(1.000000)">
<path class="c" d="M733.6 509.9 V408 L767 427"/>
<path class="c" d="M733.6 509.9 L771.6 529.3 V630.8 L726.1 605.5"/>
<path class="c" d="M723.4 432 V565"/>
<path class="c" d="M962.7 344.8 L913.5 317.6 V410.2 L1074.1 500.6 V603.2 L1030.5 577.5"/>
<path class="c" d="M779.1 439 V455 M779.1 462 V472" style="stroke-dasharray:none;stroke:#77777f"/>
<path class="c" d="M814 492 V503 M814 512.6 V522 M814 528.5 V536.5 M838.5 478 V489 M838.5 503.5 V508 M838.5 514.4 V523" style="stroke-dasharray:none;stroke:#77777f"/>
<path class="l" d="M793.9 397 V421"/>
<path class="l" d="M760 458.5 H773.9"/>
<path class="l" d="M760 475.5 H773.5"/>
<path class="l" d="M785.9 503.5 H800.9"/>
<path class="l" d="M799.5 525.3 H808.9"/>
<path class="l" d="M845.9 536.4 H854.9"/>
<path class="l" d="M907.8 475.5 V499.5"/>
<path class="l" d="M1002.3 301.6 V313.9 L987.9 325.3"/>
<path class="l" d="M1002.3 351.5 H1026"/>
<path class="l" d="M1075.6 356.4 V380.9"/>
<g transform="translate(803.3 447.6) rotate(29.88)"><path d="M0 -4.3 H256.1448223173759 M256.1448223173759 4.3 H0 Q-4.4 4.3 -4.4 0 Q-4.4 -4.3 0 -4.3" fill="#fff" stroke="none"/><path d="M0 -4.3 H256.1448223173759 Q259.1448223173759 -4.3 259.1448223173759 0 Q259.1448223173759 4.3 256.1448223173759 4.3 H0 Q-4.4 4.3 -4.4 0 Q-4.4 -4.3 0 -4.3Z" fill="#fff" stroke="none"/><path d="M256.1448223173759 -4.3 H0 Q-4.4 -4.3 -4.4 0 Q-4.4 4.3 0 4.3 H256.1448223173759" class="k"/><ellipse cx="256.1448223173759" cy="0" rx="2.6" ry="4.3" fill="#fff" stroke="#77775e" stroke-width="0.9"/><path d="M256.1448223173759 4.3 q2.6 -0.4 2.6 -4.3" fill="none" stroke="#33333a" stroke-width="1"/></g>
<path class="k1f" d="M766.8 435.4 L775 430.9 V428.2 L782.2 423.1 H802.8 Q804.4 423.3 804.4 424.8 V432.5 Q804.2 434 802.6 434 H784 L787.7 437.2 L779.5 442.7 L766.8 448.1Z"/>
<path class="k1" d="M775 430.9 L784 434 M782.2 423.1 L784 425.5 V434 M766.8 435.4 L779.5 442.7" style="stroke-width:.8"/>
<ellipse cx="778.6" cy="436.6" rx="2.8" ry="1.7" class="t" style="stroke:#66665a"/>
<path d="M773.7 458.5 v1.3 q0.6 2.6 5.4 2.8 q4.8 -0.2 5.4 -2.8 v-1.3" fill="#fff" stroke="#3c3c44" stroke-width="0.9"/><ellipse cx="779.1" cy="458.5" rx="5.4" ry="3.2" fill="#fff" stroke="#24242c" stroke-width="1.2"/><ellipse cx="779.1" cy="458.6" rx="2.8" ry="1.5" fill="#fff" stroke="#3c3c44" stroke-width="0.9"/>
<path d="M775.8000000000001 483.9 V474.4 Q779.1 471.29999999999995 782.4 474.4 V483.9Z" fill="#c9c9bc" stroke="#24242a" stroke-width="1"/>
<path d="M776.3000000000001 475.7 L781.9 474.8 M776.3000000000001 477.6 L781.9 476.7 M776.3000000000001 479.5 L781.9 478.6 M776.3000000000001 481.4 L781.9 480.5" stroke="#6e6e64" stroke-width="0.7" fill="none"/>
<path d="M779.0 474.4 V482.9" stroke="#f2f2e4" stroke-width="1.3" fill="none"/>
<path d="M772.7 485.164 Q772.7 481.9 779.1 481.9 Q785.5 481.9 785.5 485.164 L785.5 486.764 Q784.22 489.58 779.1 489.58 Q773.98 489.58 772.7 486.764Z" fill="#fff" stroke="#14141a" stroke-width="1.1"/>
<path d="M772.7 485.164 Q779.1 488.38 785.5 485.164" class="t" style="stroke:#77776a"/>
<path d="M775.8000000000001 483.9 Q779.1 485.5 782.4 483.9" fill="none" stroke="#24242a" stroke-width="0.9"/>
<path class="k1f" d="M800.7 503.1 L820.3 491.7 Q823.5 489.8 824.9 487.1 Q826 484.5 829.5 484 L837.6 481.7 L850.8 491.1 L840.3 498.9 Q837 500.5 835.8 503.5 Q834.5 505.5 830.3 504.9 L815.8 511.7Z" style="stroke-width:1.15"/>
<path class="t" d="M822.5 490.5 L833.5 505 M827 486.5 L838.5 500" style="stroke:#88887a"/>
<ellipse cx="814" cy="503.5" rx="3.6" ry="2.1" class="t" style="stroke:#66665a"/>
<ellipse cx="838.5" cy="489.3" rx="3.6" ry="2.1" class="t" style="stroke:#66665a"/>
<path d="M808.6 524.9 v1.3 q0.6 2.6 5.4 2.8 q4.8 -0.2 5.4 -2.8 v-1.3" fill="#fff" stroke="#3c3c44" stroke-width="0.9"/><ellipse cx="814" cy="524.9" rx="5.4" ry="3.2" fill="#fff" stroke="#24242c" stroke-width="1.2"/><ellipse cx="814" cy="525.0" rx="2.8" ry="1.5" fill="#fff" stroke="#3c3c44" stroke-width="0.9"/>
<path d="M833.1 510.7 v1.3 q0.6 2.6 5.4 2.8 q4.8 -0.2 5.4 -2.8 v-1.3" fill="#fff" stroke="#3c3c44" stroke-width="0.9"/><ellipse cx="838.5" cy="510.7" rx="5.4" ry="3.2" fill="#fff" stroke="#24242c" stroke-width="1.2"/><ellipse cx="838.5" cy="510.8" rx="2.8" ry="1.5" fill="#fff" stroke="#3c3c44" stroke-width="0.9"/>
<path d="M810.7 547.4 V538.3 Q814 535.1999999999999 817.3 538.3 V547.4Z" fill="#c9c9bc" stroke="#24242a" stroke-width="1"/>
<path d="M811.2 539.6 L816.8 538.7 M811.2 541.5 L816.8 540.6 M811.2 543.4 L816.8 542.5 M811.2 545.3 L816.8 544.4" stroke="#6e6e64" stroke-width="0.7" fill="none"/>
<path d="M813.9 538.3 V546.4" stroke="#f2f2e4" stroke-width="1.3" fill="none"/>
<path d="M807.6 548.664 Q807.6 545.4 814 545.4 Q820.4 545.4 820.4 548.664 L820.4 550.264 Q819.12 553.0799999999999 814 553.0799999999999 Q808.88 553.0799999999999 807.6 550.264Z" fill="#fff" stroke="#14141a" stroke-width="1.1"/>
<path d="M807.6 548.664 Q814 551.8799999999999 820.4 548.664" class="t" style="stroke:#77776a"/>
<path d="M810.7 547.4 Q814 549.0 817.3 547.4" fill="none" stroke="#24242a" stroke-width="0.9"/>
<path d="M835.2 534.3 V524.9 Q838.5 521.8 841.8 524.9 V534.3Z" fill="#c9c9bc" stroke="#24242a" stroke-width="1"/>
<path d="M835.7 526.2 L841.3 525.3 M835.7 528.1 L841.3 527.2 M835.7 530.0 L841.3 529.1 M835.7 531.9 L841.3 531.0" stroke="#6e6e64" stroke-width="0.7" fill="none"/>
<path d="M838.4 524.9 V533.3" stroke="#f2f2e4" stroke-width="1.3" fill="none"/>
<path d="M832.1 535.564 Q832.1 532.3 838.5 532.3 Q844.9 532.3 844.9 535.564 L844.9 537.164 Q843.62 539.9799999999999 838.5 539.9799999999999 Q833.38 539.9799999999999 832.1 537.164Z" fill="#fff" stroke="#14141a" stroke-width="1.1"/>
<path d="M832.1 535.564 Q838.5 538.7799999999999 844.9 535.564" class="t" style="stroke:#77776a"/>
<path d="M835.2 534.3 Q838.5 535.9 841.8 534.3" fill="none" stroke="#24242a" stroke-width="0.9"/>
<path class="c" d="M814 492 V503 M838.5 478 V489" style="stroke-dasharray:none;stroke:#77777f"/>
<path d="M965.1999999999999 320.29999999999995 V326.5 Q970.4 331.29999999999995 975.6 326.5 V320.29999999999995Z" fill="#e4e4da" stroke="#14141a" stroke-width="1.1"/>
<ellipse cx="970.4" cy="320.29999999999995" rx="5.2" ry="3.6" fill="#fff" stroke="#14141a" stroke-width="1.1"/>
<ellipse cx="970.4" cy="320.5" rx="3" ry="1.9" fill="#b4b4a8" stroke="#66665a" stroke-width="0.7"/>
<path d="M977.5 328.09999999999997 V334.3 Q982.7 339.09999999999997 987.9000000000001 334.3 V328.09999999999997Z" fill="#e4e4da" stroke="#14141a" stroke-width="1.1"/>
<ellipse cx="982.7" cy="328.09999999999997" rx="5.2" ry="3.6" fill="#fff" stroke="#14141a" stroke-width="1.1"/>
<ellipse cx="982.7" cy="328.3" rx="3" ry="1.9" fill="#b4b4a8" stroke="#66665a" stroke-width="0.7"/>
<path class="kf" d="M958.5 385 L974.5 376.8 L980.2 380.1 V359.7 L977 357.2 L998.2 345.4 L1001.5 347.4 L997.4 385 L978.6 397.6Z" style="stroke-width:1.2"/>
<path class="k1" d="M980.2 380.1 L978.6 397.6 M980.2 359.7 L983 358.3" style="stroke-width:.9"/>
<path d="M982.9 360.9 Q983.5 357.5 988.1 355.6 L995 353.3 Q997.3 353.2 996.9 356.3 L995 382.7 Q994.5 386.5 990.4 388.5 L984.7 390.8 Q981.6 391 981.9 387.3Z" fill="#fff" stroke="#1c1c24" stroke-width="1"/>
<path class="t" d="M985.6 362.5 Q986.2 359.8 989.4 358.4 L993.2 357.2 Q994.6 357.2 994.4 359.2 L992.6 381 Q992.2 383.6 989.4 385 L986.2 386.3 Q984.4 386.4 984.5 384.2Z" style="stroke:#8c8c7c"/>
<path class="t" d="M982.5 386 L989.5 390.5 M995 382.7 L997.4 385"/>
<ellipse cx="969.6" cy="384.2" rx="2.8" ry="1.6" class="t" style="stroke:#77776a"/>
<path class="c" d="M969.3 330.5 V405.8 M982.4 338.5 V410.4" style="stroke-dasharray:18 3 2 3"/>
<path class="c" d="M998 365.5 L1009 372"/>
<path d="M1015.4 368.7 L1058.7 392.4 L1052.2 403.2 L1011.3 380.9 Q1008.2 378.5 1009.6 373.5 Q1011.5 368.2 1015.4 368.7Z" class="kf" style="stroke-width:1.25"/>
<path d="M1013.5 370.0 l3.6 8.6 M1015.4 371.1 l3.6 8.6 M1017.3 372.1 l3.6 8.6 M1019.2 373.1 l3.6 8.6 M1021.1 374.2 l3.6 8.6 M1023.0 375.2 l3.6 8.6 M1024.9 376.3 l3.6 8.6" stroke="#9c9c84" stroke-width="0.8" fill="none"/>
<path class="kf" d="M1080.6 384.0 C1079.8 383.8 1078.5 382.4 1076.0 382.8 C1073.5 383.2 1068.8 384.5 1065.7 386.3 C1062.6 388.1 1059.9 390.8 1057.6 393.8 C1055.3 396.8 1053.2 400.7 1051.9 404.1 C1050.6 407.6 1049.6 411.2 1049.6 414.5 C1049.6 417.8 1050.6 421.3 1051.9 423.7 C1053.2 426.1 1056.6 428.0 1057.6 428.9 L1057.6 428.9 L1096.7 444.4 L1096.7 444.4 C1097.5 444.6 1099.4 445.5 1101.3 445.5 C1103.2 445.5 1105.9 445.7 1108.2 444.4 C1110.5 443.1 1113.2 440.4 1115.1 437.5 C1117.0 434.6 1118.7 430.0 1119.7 427.1 C1120.7 424.2 1121.1 422.5 1120.9 420.2 C1120.7 417.9 1119.0 414.4 1118.6 413.3  L1080.6 384Z"/>
<ellipse cx="1108.6" cy="429.2" rx="8.6" ry="15.2" transform="rotate(27 1108.6 429.2)" fill="none" stroke="#66667a" stroke-width="1"/>
<ellipse cx="1106.5" cy="428.4" rx="11.2" ry="18.2" transform="rotate(27 1106.5 428.4)" class="t"/>
<path class="t" d="M1067.4 403.0 L1069.7 397.2 L1073.1 394.3 L1077.8 394.3 L1089.8 399.5 L1084.7 409.9 L1080.6 408.1 L1083.8 402.1 L1075.8 398.6 L1073.1 402.4Z" style="stroke-linejoin:round"/>
<path class="t" d="M1069.2 402.6 L1071.0 398.0 L1073.6 395.9 L1077.4 395.9 L1087.6 400.3 L1084.0 407.8 L1082.6 407.2 L1085.6 401.4 L1076.0 397.0 L1071.8 402.2Z" style="stroke:#c4c4a8"/>
<path class="t" d="M1060.5 415.6 L1077.2 423.1 L1076 432.9 L1060.5 425.4Z M1064.5 420 L1074.1 424.3 L1073.5 428.5 L1064.5 424.3Z"/>
<path class="t" d="M1062 417.8 L1075.6 424 L1074.8 430.6 L1062 424.2Z" style="stroke:#c4c4a8"/>
<path class="t" d="M1073.1 402.4 L1080.6 416.2 L1077.2 423.1 M1067.4 403 L1075.4 416.8 L1073 421"/>
<path class="t" d="M1085 383.5 L1097.5 398.5 M1088.5 386 L1098.8 397.5 M1092 388.5 L1100 397"/>
</g>
<!-- p_bottom -->
<g transform="translate(0 0) scale(1.000000)">
<path class="c" d="M286.5 498 V524"/>
<path class="c" d="M383.8 517 V555"/>
<path class="c" d="M375.8 449.5 V453 M375.8 460 V466" style="stroke-dasharray:none;stroke:#77777f"/>
<path class="c" d="M559.4 531.1 L530.3 547.8"/>
<path class="c" d="M605.9 581.2 L546.3 614.6"/>
<path class="c" d="M604.4 651 V671" style="stroke-dasharray:none;stroke:#77777f"/>
<path class="c" d="M694.4 641 V650 M694.4 687 V699" style="stroke-dasharray:none;stroke:#77777f"/>
<path class="c" d="M503 641 L512 636" style="stroke-dasharray:4 2"/>
<path class="l" d="M348.9 436.5 H369.8"/>
<path class="l" d="M348.9 456.3 H369.8"/>
<path class="l" d="M350.8 487.4 H372.8"/>
<path class="l" d="M258 552.9 H279.9"/>
<path class="l" d="M479.9 543.5 H502.3"/>
<path class="l" d="M486.5 657.9 V680.9"/>
<path class="l" d="M702.2 669.4 H714.8"/>
<path class="l" d="M701.4 724.3 H714.8"/>
<path class="l" d="M596.9 757.9 V740.9 L609.9 734.3"/>
<path class="l" d="M611.5 629 H625"/>
<path d="M541.9 657.9 V680.9" fill="none" stroke="#96968a" stroke-width="1.8"/>
<path d="M502.3 534.3 L549.9 560 V578.3 L502.3 551.9Z" fill="none" stroke="#4a4a5e" stroke-width="0.95"/>
<path d="M373.6 441 V448 Q375.8 450.2 378 448 V441Z" fill="#b9b7a6" stroke="#3a3a34" stroke-width="0.9"/>
<ellipse cx="375.8" cy="437" rx="4.9" ry="3.6" fill="#fff" stroke="#22222a" stroke-width="1.05"/>
<ellipse cx="375.8" cy="456.5" rx="5.3" ry="3" fill="#fff" stroke="#2a2a30" stroke-width="1"/>
<ellipse cx="375.8" cy="456.6" rx="2.7" ry="1.4" fill="#fff" stroke="#55554a" stroke-width="0.8"/>
<path class="kf" d="M368.9 470 Q367.5 466.5 370.5 465 L377.8 463 Q381.5 462.8 383.8 466.5 L389.4 476 V492 L386.8 498.9 L374.8 493.5 V480Z" style="stroke-width:1.25"/>
<path class="t" d="M374.8 480 L380 477.5 L389.4 482 M380 477.5 L373.5 467.5 M374.8 489 L386.8 494.5" style="stroke:#88887a"/>
<ellipse cx="375.9" cy="468.4" rx="2.9" ry="1.7" class="t" style="stroke:#66665a"/>
<path d="M282.6 547.5 V530 Q286.4 526 290.3 530 V547.5Z" fill="#d9d9cc" stroke="#14141a" stroke-width="1.1"/>
<path d="M284 531.5 h4.8 M284 533.6 h4.8 M284 535.7 h4.8 M284 537.8 h4.8 M284 539.9 h4.8 M284 542.0 h4.8 M284 544.1 h4.8" stroke="#8a8a7a" stroke-width="0.7" fill="none"/>
<path d="M286.4 529 V546" stroke="#fafaf0" stroke-width="1.3" fill="none"/>
<path d="M279.9 549 Q280 546.2 286.6 546.2 Q293.4 546.2 293.5 549 V556.5 Q292 559.6 286.6 559.7 Q281.4 559.6 279.9 556.5Z" fill="#fff" stroke="#14141a" stroke-width="1.15"/>
<path class="kf" d="M413.0 577.0 C413.4 576.2 414.3 573.7 415.5 572.5 C416.7 571.3 418.4 570.2 420.0 570.0 C421.6 569.8 423.8 571.0 425.0 571.0 C426.2 571.0 426.7 570.2 427.0 570.0 L427.0 570.0 L448.0 560.0 L451.5 559.6 L455.0 560.4 L455.0 560.4 L531.9 609.9 L535.9 609.3 L543.9 613.9 L544.9 617.9 L575.8 633.9 L575.8 633.9 C577.5 635.6 581.0 639.6 586.0 644.0 C591.0 648.4 600.2 655.8 605.9 660.0 C611.5 664.2 614.2 663.4 619.9 669.0 C625.6 674.6 633.6 687.1 639.9 693.9 C646.2 700.7 654.4 706.4 657.9 709.9 C661.4 713.4 660.6 713.4 660.9 714.9 C661.2 716.4 660.1 718.2 659.9 718.9 L659.9 718.9 L642.9 728.9 L640.0 728.9 L637.9 727.9 L637.9 727.9 C636.2 726.2 632.6 722.9 627.9 717.9 C623.2 712.9 614.6 702.4 609.9 697.9 C605.2 693.4 603.1 693.0 599.8 691.0 C596.5 689.0 595.5 688.2 589.9 685.9 C584.3 683.6 572.3 680.6 566.0 677.0 C559.7 673.4 555.7 667.5 552.0 664.0 C548.3 660.5 545.2 657.2 543.9 655.9 L543.9 655.9 L519.9 640.9 L515.9 639.9 L511.9 634.9 L443.0 593.0 L443.0 593.0 C441.0 593.4 433.8 595.5 431.0 595.5 C428.2 595.5 427.5 594.4 426.0 593.0 C424.5 591.6 423.7 588.8 422.0 587.0 C420.3 585.2 417.5 583.7 416.0 582.0 C414.5 580.3 413.5 577.8 413.0 577.0 Z"/>
<path class="t" d="M449 563.5 L531 611.1 M428.5 573.0 L513.5 625.4 M429.5 575.6 L513 627.1 M546 617.1 L600 654.4 M532.2 628.9 L597 668.2 M531 630.2 L597 670.2 M428.5 574 V587 Q429.6 592 433.2 591.4 L436 590 V575.5 M416.5 578.6 L427.5 573.8 M431.5 571.5 L448.5 563 M444 590.2 L513 632.2 M447 589 L514.5 629.6 M521.5 631 L548 647 L589 668 Q607 680 624 699 L644 719 M524 628.2 L551 644.2 L592 664.4 Q606 673 618 686 M513 626.5 V640 M518.4 629 V641 M620.3 706.9 L643.2 699.2 L655 704.5 M633 716.5 L655.5 704.5 M611 663.5 L643 689 M437.5 567.0 V578.5 M461 570.5 V593.0 M459.4 569.5 V592.0 M481.3 582.3 V605.5 M479.7 581.3 V604.5 M505.5 596.3 V620.4 M503.9 595.3 V619.4 M437.5 567.0 L461 593.0 M437.5 578.5 L461 570.5 M439.3 567.0 L461 591.0 M439.3 578.5 L461 572.5 M461 570.5 L481.3 605.5 M461 593.0 L481.3 582.3 M462.8 570.5 L481.3 603.5 M462.8 593.0 L481.3 584.3 M481.3 582.3 L505.5 620.4 M481.3 605.5 L505.5 596.3 M483.1 582.3 L505.5 618.4 M483.1 605.5 L505.5 598.3 M505.5 596.3 L513.5 625.4 M546 617.1 V637.3 M562 627.6 V647.0 M580 639.4 V657.9 M596 649.8 V667.6 M546 617.1 L562 647.0 M546 637.3 L562 627.6 M547.6 617.1 L562 645.2 M547.6 637.3 L562 629.4 M562 627.6 L580 657.9 M562 647.0 L580 639.4 M563.6 627.6 L580 656.1 M563.6 647.0 L580 641.2 M580 639.4 L596 667.6 M580 657.9 L596 649.8 M581.6 639.4 L596 665.8 M581.6 657.9 L596 651.6 M534 630.0 L546 617.1"/>
<path d="M518.2 623.8 L533.4 615.5" fill="none" stroke="#2c2c34" stroke-width="0.9"/>
<ellipse cx="513.9" cy="633.9" rx="3.3" ry="4.8" transform="rotate(-20 513.9 633.9)" class="t" style="stroke:#77776a"/>
<path d="M595 674 V681.5 Q604.6 687.5 614.2 681.5 V674" class="tf" style="stroke:#8a8a7c"/>
<ellipse cx="604.6" cy="674" rx="9.6" ry="5.1" class="tf" style="stroke:#77776a"/>
<ellipse cx="604.6" cy="673.6" rx="5.4" ry="2.8" class="t" style="stroke:#77776a"/>
<path class="t" d="M615.9 692 V697 M627.3 692 V700"/>
<ellipse cx="627.3" cy="700.5" rx="2.4" ry="1.3" class="t"/><ellipse cx="615.9" cy="696.5" rx="2.4" ry="1.3" class="t"/>
<g transform="translate(464.3 663.9) rotate(-30.70)"><path d="M2 -2.2 H40.241794836191005 V2.2 H2Z" fill="#fff" stroke="#0a0a0a" stroke-width="1.15"/><path d="M40.241794836191005 -2.4 H45.241794836191005 Q46.641794836191 0 45.241794836191005 2.4 H40.241794836191005Z" fill="#77776e" stroke="#14141a" stroke-width="1"/><path d="M-0.5 -7.6 Q-3.8 -7 -3.8 0 Q-3.8 7 -0.5 7.6 L2.6 6.4 Q4.4 3 4.4 0 Q4.4 -3 2.6 -6.4Z" fill="#fff" stroke="#0a0a0a" stroke-width="1.2"/><ellipse cx="-0.4" cy="0" rx="2.6" ry="6.2" class="t"/></g>
<rect x="598.5" y="612.3" width="12.2" height="33.90000000000009" fill="#fff" stroke="none"/>
<ellipse cx="604.6" cy="612.3" rx="6.1" ry="2.3" fill="#fff" stroke="#2c2c30" stroke-width="0.9"/>
<path d="M598.5 611.7 Q598.5 614.6 604.6 614.6 Q610.7 614.6 610.7 611.7" fill="none" stroke="#26262c" stroke-width="1.0"/>
<path d="M599.1 613.8 Q604.6 611.6 610.1 613.8" fill="none" stroke="#9a9a8c" stroke-width="0.7"/>
<path d="M598.5 615.1 Q598.5 618.0 604.6 618.0 Q610.7 618.0 610.7 615.1" fill="none" stroke="#26262c" stroke-width="1.0"/>
<path d="M599.1 617.2 Q604.6 615.0 610.1 617.2" fill="none" stroke="#9a9a8c" stroke-width="0.7"/>
<path d="M598.5 618.5 Q598.5 621.4 604.6 621.4 Q610.7 621.4 610.7 618.5" fill="none" stroke="#26262c" stroke-width="1.0"/>
<path d="M599.1 620.6 Q604.6 618.4 610.1 620.6" fill="none" stroke="#9a9a8c" stroke-width="0.7"/>
<path d="M598.5 621.9 Q598.5 624.8 604.6 624.8 Q610.7 624.8 610.7 621.9" fill="none" stroke="#26262c" stroke-width="1.0"/>
<path d="M599.1 624.0 Q604.6 621.8 610.1 624.0" fill="none" stroke="#9a9a8c" stroke-width="0.7"/>
<path d="M598.5 625.3 Q598.5 628.2 604.6 628.2 Q610.7 628.2 610.7 625.3" fill="none" stroke="#26262c" stroke-width="1.0"/>
<path d="M599.1 627.4 Q604.6 625.2 610.1 627.4" fill="none" stroke="#9a9a8c" stroke-width="0.7"/>
<path d="M598.5 628.6 Q598.5 631.5 604.6 631.5 Q610.7 631.5 610.7 628.6" fill="none" stroke="#26262c" stroke-width="1.0"/>
<path d="M599.1 630.8 Q604.6 628.6 610.1 630.8" fill="none" stroke="#9a9a8c" stroke-width="0.7"/>
<path d="M598.5 632.0 Q598.5 634.9 604.6 634.9 Q610.7 634.9 610.7 632.0" fill="none" stroke="#26262c" stroke-width="1.0"/>
<path d="M599.1 634.2 Q604.6 632.0 610.1 634.2" fill="none" stroke="#9a9a8c" stroke-width="0.7"/>
<path d="M598.5 635.4 Q598.5 638.3 604.6 638.3 Q610.7 638.3 610.7 635.4" fill="none" stroke="#26262c" stroke-width="1.0"/>
<path d="M599.1 637.6 Q604.6 635.4 610.1 637.6" fill="none" stroke="#9a9a8c" stroke-width="0.7"/>
<path d="M598.5 638.8 Q598.5 641.7 604.6 641.7 Q610.7 641.7 610.7 638.8" fill="none" stroke="#26262c" stroke-width="1.0"/>
<path d="M599.1 640.9 Q604.6 638.7 610.1 640.9" fill="none" stroke="#9a9a8c" stroke-width="0.7"/>
<path d="M598.5 642.2 Q598.5 645.1 604.6 645.1 Q610.7 645.1 610.7 642.2" fill="none" stroke="#26262c" stroke-width="1.0"/>
<path d="M599.1 644.3 Q604.6 642.1 610.1 644.3" fill="none" stroke="#9a9a8c" stroke-width="0.7"/>
<path d="M598.5 645.6 Q598.5 648.5 604.6 648.5 Q610.7 648.5 610.7 645.6" fill="none" stroke="#26262c" stroke-width="1.0"/>
<rect x="688.4" y="652.3" width="12.2" height="31.0" fill="#fff" stroke="none"/>
<ellipse cx="694.5" cy="652.3" rx="6.1" ry="2.3" fill="#fff" stroke="#2c2c30" stroke-width="0.9"/>
<path d="M688.4 651.7 Q688.4 654.6 694.5 654.6 Q700.6 654.6 700.6 651.7" fill="none" stroke="#26262c" stroke-width="1.0"/>
<path d="M689.0 653.8 Q694.5 651.6 700.0 653.8" fill="none" stroke="#9a9a8c" stroke-width="0.7"/>
<path d="M688.4 655.1 Q688.4 658.0 694.5 658.0 Q700.6 658.0 700.6 655.1" fill="none" stroke="#26262c" stroke-width="1.0"/>
<path d="M689.0 657.3 Q694.5 655.1 700.0 657.3" fill="none" stroke="#9a9a8c" stroke-width="0.7"/>
<path d="M688.4 658.6 Q688.4 661.5 694.5 661.5 Q700.6 661.5 700.6 658.6" fill="none" stroke="#26262c" stroke-width="1.0"/>
<path d="M689.0 660.7 Q694.5 658.5 700.0 660.7" fill="none" stroke="#9a9a8c" stroke-width="0.7"/>
<path d="M688.4 662.0 Q688.4 664.9 694.5 664.9 Q700.6 664.9 700.6 662.0" fill="none" stroke="#26262c" stroke-width="1.0"/>
<path d="M689.0 664.2 Q694.5 662.0 700.0 664.2" fill="none" stroke="#9a9a8c" stroke-width="0.7"/>
<path d="M688.4 665.5 Q688.4 668.4 694.5 668.4 Q700.6 668.4 700.6 665.5" fill="none" stroke="#26262c" stroke-width="1.0"/>
<path d="M689.0 667.6 Q694.5 665.4 700.0 667.6" fill="none" stroke="#9a9a8c" stroke-width="0.7"/>
<path d="M688.4 668.9 Q688.4 671.8 694.5 671.8 Q700.6 671.8 700.6 668.9" fill="none" stroke="#26262c" stroke-width="1.0"/>
<path d="M689.0 671.1 Q694.5 668.9 700.0 671.1" fill="none" stroke="#9a9a8c" stroke-width="0.7"/>
<path d="M688.4 672.4 Q688.4 675.3 694.5 675.3 Q700.6 675.3 700.6 672.4" fill="none" stroke="#26262c" stroke-width="1.0"/>
<path d="M689.0 674.5 Q694.5 672.3 700.0 674.5" fill="none" stroke="#9a9a8c" stroke-width="0.7"/>
<path d="M688.4 675.8 Q688.4 678.7 694.5 678.7 Q700.6 678.7 700.6 675.8" fill="none" stroke="#26262c" stroke-width="1.0"/>
<path d="M689.0 678.0 Q694.5 675.8 700.0 678.0" fill="none" stroke="#9a9a8c" stroke-width="0.7"/>
<path d="M688.4 679.3 Q688.4 682.2 694.5 682.2 Q700.6 682.2 700.6 679.3" fill="none" stroke="#26262c" stroke-width="1.0"/>
<path d="M689.0 681.4 Q694.5 679.2 700.0 681.4" fill="none" stroke="#9a9a8c" stroke-width="0.7"/>
<path d="M688.4 682.7 Q688.4 685.6 694.5 685.6 Q700.6 685.6 700.6 682.7" fill="none" stroke="#26262c" stroke-width="1.0"/>
<path d="M676.4 745.6 V757.6 Q678 764.6 695 768 Q712 764.6 713.5 757.6 V745.6" fill="#fff" stroke="#14141a" stroke-width="1.15"/>
<path d="M678.8 751.2 V758.9 M681.1 752.7 V760.7 M683.4 754.0 V762.4 M685.7 755.2 V763.9 M688.0 756.2 V765.1 M690.4 756.9 V766.0 M692.7 757.3 V766.6 M695.0 757.5 V766.8 M697.3 757.3 V766.6 M699.6 756.9 V766.0 M702.0 756.2 V765.1 M704.3 755.2 V763.9 M706.6 754.0 V762.4 M708.9 752.7 V760.7 M711.2 751.2 V758.9" stroke="#6c6c66" stroke-width="0.9" fill="none"/>
<path d="M677 750.5 Q695 765 713 750.5" fill="none" stroke="#3a3a44" stroke-width="0.8"/>
<ellipse cx="695" cy="745.6" rx="18.5" ry="8.6" fill="#fff" stroke="#14141a" stroke-width="1.15"/>
<path d="M678.5 748.5 Q695 759.5 711.5 748.5" class="t"/>
<path d="M689.9 748 V704 Q689.9 700.6 695 700.5 Q700.4 700.6 700.4 704 V748 Q695 751.5 689.9 748Z" fill="#fff" stroke="#44445a" stroke-width="0.95"/>
<path d="M690.5 704.5 Q695 708 700 704.5" class="t"/><path d="M692.3 706.5 V748.8 M698.2 706.5 V748.8" class="t"/>
<path d="M691 700.8 Q695 699.4 699.4 700.8" fill="none" stroke="#14141a" stroke-width="1"/>
<path class="c" d="M615.9 711 V719 M627.3 716 V725" style="stroke-dasharray:none;stroke:#66666f"/>
<path d="M613.3000000000001 732.2 V721.8 Q616.2 718.6999999999999 619.1 721.8 V732.2Z" fill="#c9c9bc" stroke="#24242a" stroke-width="1"/>
<path d="M613.8000000000001 723.1 L618.6 722.2 M613.8000000000001 725.0 L618.6 724.1 M613.8000000000001 726.9 L618.6 726.0 M613.8000000000001 728.8 L618.6 727.9 M613.8000000000001 730.7 L618.6 729.8" stroke="#6e6e64" stroke-width="0.7" fill="none"/>
<path d="M616.1 721.8 V731.2" stroke="#f2f2e4" stroke-width="1.3" fill="none"/>
<path d="M610.8000000000001 732.9540000000001 Q610.8000000000001 730.2 616.2 730.2 Q621.6 730.2 621.6 732.9540000000001 L621.6 734.5540000000001 Q620.5200000000001 736.6800000000001 616.2 736.6800000000001 Q611.88 736.6800000000001 610.8000000000001 734.5540000000001Z" fill="#fff" stroke="#14141a" stroke-width="1.1"/>
<path d="M610.8000000000001 732.9540000000001 Q616.2 735.48 621.6 732.9540000000001" class="t" style="stroke:#77776a"/>
<path d="M613.3000000000001 732.2 Q616.2 733.8000000000001 619.1 732.2" fill="none" stroke="#24242a" stroke-width="0.9"/>
<path d="M624.5 738.6 V727.8 Q627.4 724.6999999999999 630.3 727.8 V738.6Z" fill="#c9c9bc" stroke="#24242a" stroke-width="1"/>
<path d="M625.0 729.1 L629.8 728.2 M625.0 731.0 L629.8 730.1 M625.0 732.9 L629.8 732.0 M625.0 734.8 L629.8 733.9 M625.0 736.7 L629.8 735.8" stroke="#6e6e64" stroke-width="0.7" fill="none"/>
<path d="M627.3 727.8 V737.6" stroke="#f2f2e4" stroke-width="1.3" fill="none"/>
<path d="M622.0 739.354 Q622.0 736.6 627.4 736.6 Q632.8 736.6 632.8 739.354 L632.8 740.9540000000001 Q631.72 743.08 627.4 743.08 Q623.0799999999999 743.08 622.0 740.9540000000001Z" fill="#fff" stroke="#14141a" stroke-width="1.1"/>
<path d="M622.0 739.354 Q627.4 741.88 632.8 739.354" class="t" style="stroke:#77776a"/>
<path d="M624.5 738.6 Q627.4 740.2 630.3 738.6" fill="none" stroke="#24242a" stroke-width="0.9"/>
</g>
<!-- p_text -->
<g style="filter:grayscale(1)">
<text x="53.3" y="58.6" style="font-size:12px;text-anchor:start;stroke:#000;stroke-width:0.22px" textLength="71.7" lengthAdjust="spacingAndGlyphs">3 601 M49 000</text>
<text x="55" y="72.9" style="font-size:10.8px;text-anchor:start;stroke:#000;stroke-width:0.22px" textLength="24.7" lengthAdjust="spacingAndGlyphs">Issue</text>
<text x="53.3" y="84.9" style="font-size:11px;text-anchor:start;stroke:#000;stroke-width:0.22px" textLength="27.2" lengthAdjust="spacingAndGlyphs">Stand</text>
<path d="M82.3 65.3 q2.4 0.2 2.4 2.6 v5.2 q0 2.4 1.8 2.7 q-1.8 0.3 -1.8 2.7 v5.2 q0 2.4 -2.4 2.6" fill="none" stroke="#111" stroke-width="1"/>
<text x="89.6" y="79.1" style="font-size:12px;text-anchor:start;stroke:#000;stroke-width:0.22px" textLength="42.8" lengthAdjust="spacingAndGlyphs">23-04-20</text>
<rect x="139.2" y="65.1" width="91.9" height="20.8" fill="#000"/>
<text x="143.5" y="81.7" textLength="83" lengthAdjust="spacingAndGlyphs" style="font-size:18.6px;font-weight:bold;fill:#fff">Fig./Abb. 3</text>
<text x="67.4" y="177.7" textLength="55.2" lengthAdjust="spacingAndGlyphs" style="font-size:10.6px;stroke:#000;stroke-width:0.2px">siehe Abb. <tspan style="font-weight:bold">5</tspan></text>
<text x="79" y="187.9" textLength="43.6" lengthAdjust="spacingAndGlyphs" style="font-size:10.6px;stroke:#000;stroke-width:0.2px">see Fig. <tspan style="font-weight:bold">5</tspan></text>
<text x="79.3" y="198.1" textLength="43.3" lengthAdjust="spacingAndGlyphs" style="font-size:10.6px;stroke:#000;stroke-width:0.2px">voir Fig. <tspan style="font-weight:bold">5</tspan></text>
<text x="58" y="208.4" textLength="64.6" lengthAdjust="spacingAndGlyphs" style="font-size:10.6px;stroke:#000;stroke-width:0.2px">véase la Fig. <tspan style="font-weight:bold">5</tspan></text>
<text x="337.7" y="586.7" textLength="55.2" lengthAdjust="spacingAndGlyphs" style="font-size:10.6px;stroke:#000;stroke-width:0.2px">siehe Abb. <tspan style="font-weight:bold">4</tspan></text>
<text x="349.3" y="597.2" textLength="43.6" lengthAdjust="spacingAndGlyphs" style="font-size:10.6px;stroke:#000;stroke-width:0.2px">see Fig. <tspan style="font-weight:bold">4</tspan></text>
<text x="349.5" y="607.6" textLength="43.4" lengthAdjust="spacingAndGlyphs" style="font-size:10.6px;stroke:#000;stroke-width:0.2px">voir Fig. <tspan style="font-weight:bold">4</tspan></text>
<text x="328.2" y="618" textLength="64.7" lengthAdjust="spacingAndGlyphs" style="font-size:10.6px;stroke:#000;stroke-width:0.2px">véase la Fig. <tspan style="font-weight:bold">4</tspan></text>
<circle cx="106.9" cy="223" r="7.7" fill="#000"/>
<text x="106.9" y="227" textLength="5.8" lengthAdjust="spacingAndGlyphs" style="font-size:14.5px;font-weight:bold;fill:#fff;text-anchor:middle">x</text>
<circle cx="383.8" cy="565.4" r="7.6" fill="#000"/>
<text x="383.9" y="567.8" textLength="6.6" lengthAdjust="spacingAndGlyphs" style="font-size:14.3px;font-weight:bold;fill:#fff;text-anchor:middle">y</text>
<text class="b" x="254.9" y="172" textLength="18.7" lengthAdjust="spacingAndGlyphs">802</text>
<text class="b" x="196.1" y="192.5" textLength="18" lengthAdjust="spacingAndGlyphs">177</text>
<text class="b" x="118.8" y="278" textLength="18" lengthAdjust="spacingAndGlyphs">119</text>
<text class="b" x="118.8" y="290" textLength="19.5" lengthAdjust="spacingAndGlyphs">(2x)</text>
<text class="b" x="179.3" y="296.5" textLength="17.8" lengthAdjust="spacingAndGlyphs">169</text>
<text class="b" x="151.2" y="309" textLength="17.8" lengthAdjust="spacingAndGlyphs">168</text>
<text class="b" x="332.3" y="288" textLength="17.5" lengthAdjust="spacingAndGlyphs">169</text>
<text class="b" x="352.5" y="273.5" textLength="17.5" lengthAdjust="spacingAndGlyphs">168</text>
<text class="b" x="413" y="270" textLength="12" lengthAdjust="spacingAndGlyphs">84</text>
<text class="b" x="459.6" y="159" textLength="18.6" lengthAdjust="spacingAndGlyphs">106</text>
<text class="b" x="459.6" y="171" textLength="19.5" lengthAdjust="spacingAndGlyphs">(2x)</text>
<text class="b" x="575.7" y="146" textLength="11.6" lengthAdjust="spacingAndGlyphs">74</text>
<text class="b" x="575.9" y="158" textLength="20" lengthAdjust="spacingAndGlyphs">(6x)</text>
<text class="b" x="339.2" y="441.1" textLength="11.4" lengthAdjust="spacingAndGlyphs">74</text>
<text class="b" x="339.2" y="461.5" textLength="11.4" lengthAdjust="spacingAndGlyphs">99</text>
<text class="b" x="339.4" y="492.2" textLength="17" lengthAdjust="spacingAndGlyphs">107</text>
<text class="b" x="246.3" y="556.8" textLength="17.5" lengthAdjust="spacingAndGlyphs">164</text>
<text class="b" x="471.4" y="548.3" textLength="11.6" lengthAdjust="spacingAndGlyphs">20</text>
<text class="b" x="485.5" y="693" textLength="11.6" lengthAdjust="spacingAndGlyphs">95</text>
<text class="b" x="541" y="693" textLength="11.6" lengthAdjust="spacingAndGlyphs">96</text>
<text class="b" x="635.2" y="633" textLength="17.5" lengthAdjust="spacingAndGlyphs">171</text>
<text class="b" x="725.5" y="673.4" textLength="17.5" lengthAdjust="spacingAndGlyphs">156</text>
<text class="b" x="725.5" y="727.9" textLength="17.5" lengthAdjust="spacingAndGlyphs">173</text>
<text class="b" x="596" y="767" textLength="17.5" lengthAdjust="spacingAndGlyphs">149</text>
<text class="b" x="596" y="779.5" textLength="19.5" lengthAdjust="spacingAndGlyphs">(2x)</text>
<text class="b" x="793.4" y="394.5" textLength="17" lengthAdjust="spacingAndGlyphs">101</text>
<text class="b" x="749" y="463" textLength="17.5" lengthAdjust="spacingAndGlyphs">112</text>
<text class="b" x="749" y="480" textLength="17.5" lengthAdjust="spacingAndGlyphs">191</text>
<text class="b" x="775.5" y="507.5" textLength="17.5" lengthAdjust="spacingAndGlyphs">204</text>
<text class="b" x="788.7" y="529.1" textLength="17.8" lengthAdjust="spacingAndGlyphs">112</text>
<text class="b" x="788.6" y="541.3" textLength="19.2" lengthAdjust="spacingAndGlyphs">(2x)</text>
<text class="b" x="864.7" y="540.5" textLength="16.5" lengthAdjust="spacingAndGlyphs">191</text>
<text class="b" x="865" y="552.6" textLength="19.4" lengthAdjust="spacingAndGlyphs">(2x)</text>
<text class="b" x="907.8" y="473.1" textLength="17.8" lengthAdjust="spacingAndGlyphs">100</text>
<text class="b" x="1002" y="286.2" textLength="17.5" lengthAdjust="spacingAndGlyphs">203</text>
<text class="b" x="1002" y="299" textLength="19.5" lengthAdjust="spacingAndGlyphs">(2x)</text>
<text class="b" x="1035.2" y="354.7" textLength="11.6" lengthAdjust="spacingAndGlyphs">98</text>
<text class="b" x="1075.8" y="354.7" textLength="11.6" lengthAdjust="spacingAndGlyphs">97</text>
<text x="32" y="762" style="font-size:11.7px;text-anchor:start;stroke:#000;stroke-width:0.22px" textLength="106" lengthAdjust="spacingAndGlyphs">Modifications reserved</text>
<text x="32" y="772.9" style="font-size:11.7px;text-anchor:start;stroke:#000;stroke-width:0.22px" textLength="116" lengthAdjust="spacingAndGlyphs">Änderungen vorbehalten</text>
<text x="32" y="785" style="font-size:11.7px;text-anchor:start;stroke:#000;stroke-width:0.22px" textLength="111" lengthAdjust="spacingAndGlyphs">Modifications resérvées</text>
<text x="32" y="796.5" style="font-size:11.7px;text-anchor:start;stroke:#000;stroke-width:0.22px" textLength="99" lengthAdjust="spacingAndGlyphs">Salvo modificaciones</text>
</g>
</svg>
</body></html>
